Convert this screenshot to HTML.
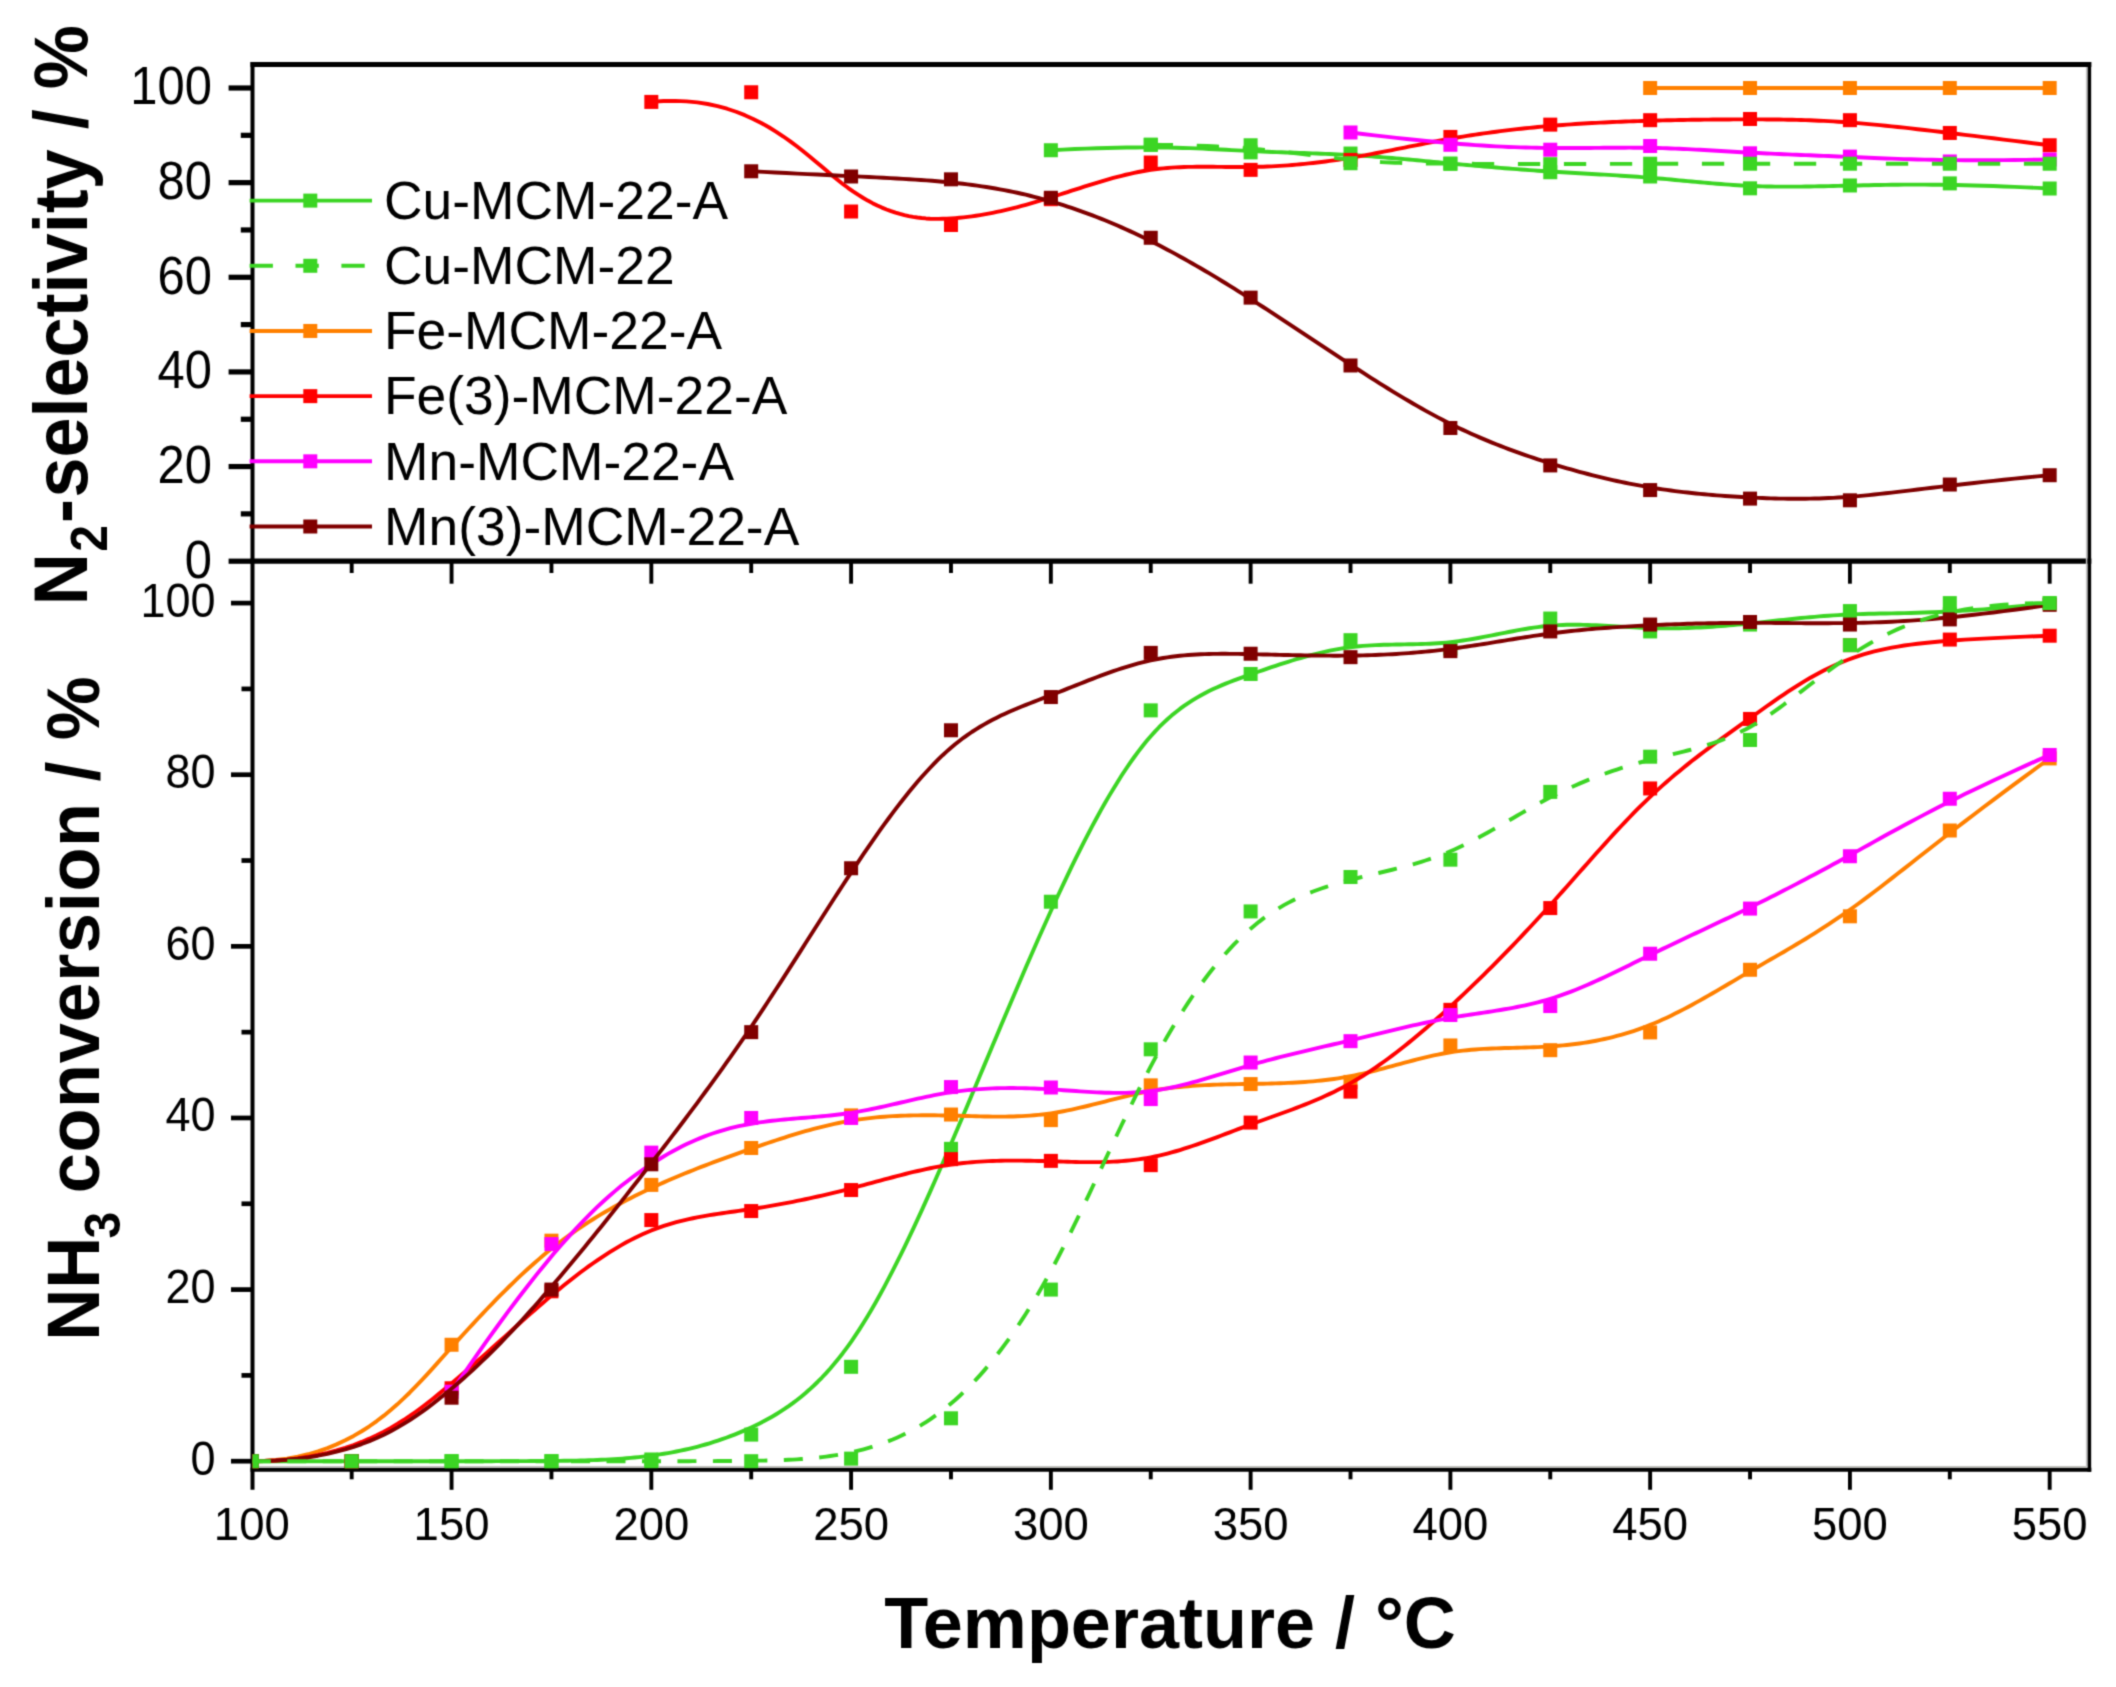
<!DOCTYPE html>
<html lang="en">
<head>
<meta charset="utf-8">
<title>NH3 conversion and N2 selectivity vs temperature</title>
<style>
html,body{margin:0;padding:0;background:#fff;}
body{width:2116px;height:1687px;overflow:hidden;}
svg{display:block;}
</style>
</head>
<body>
<svg width="2116" height="1687" viewBox="0 0 2116 1687" font-family="'Liberation Sans', Arial, Helvetica, sans-serif">
<rect width="2116" height="1687" fill="#ffffff"/>
<defs><clipPath id="cb"><rect x="252.5" y="561.2" width="1836.8000000000002" height="908.5"/></clipPath><clipPath id="ct"><rect x="252.5" y="64.4" width="1836.8000000000002" height="496.80000000000007"/></clipPath><filter id="soft" x="0" y="0" width="2116" height="1687" filterUnits="userSpaceOnUse" color-interpolation-filters="sRGB"><feConvolveMatrix order="3" kernelMatrix="0.0324 0.1152 0.0324 0.1152 0.4096 0.1152 0.0324 0.1152 0.0324" edgeMode="duplicate" preserveAlpha="false"/></filter></defs>
<g filter="url(#soft)">
<rect width="2116" height="1687" fill="#ffffff"/>
<g fill="none" stroke="#000" stroke-linecap="butt">
<line x1="252.5" y1="61.900000000000006" x2="252.5" y2="1489.8" stroke-width="4.0"/>
<line x1="2089.3" y1="61.900000000000006" x2="2089.3" y2="1471.8500000000001" stroke-width="3.7"/>
<line x1="250.5" y1="64.4" x2="2091.3" y2="64.4" stroke-width="5.0"/>
<line x1="250.5" y1="561.2" x2="2091.3" y2="561.2" stroke-width="5.2"/>
<line x1="250.5" y1="1469.7" x2="2091.3" y2="1469.7" stroke-width="4.0"/>
<line x1="254.5" y1="1466.8" x2="2087.3" y2="1466.8" stroke-width="1.6" stroke="#bdbdb8"/>
<line x1="2086.6000000000004" y1="66.9" x2="2086.6000000000004" y2="1467.6000000000001" stroke-width="1.5" stroke="#c4c4c4"/>
</g>
<g stroke="#000" stroke-linecap="butt">
<line x1="228.6" y1="561.20" x2="252.5" y2="561.20" stroke-width="5.2"/>
<line x1="240.8" y1="513.88" x2="252.5" y2="513.88" stroke-width="5.2"/>
<line x1="228.6" y1="466.56" x2="252.5" y2="466.56" stroke-width="5.2"/>
<line x1="240.8" y1="419.24" x2="252.5" y2="419.24" stroke-width="5.2"/>
<line x1="228.6" y1="371.92" x2="252.5" y2="371.92" stroke-width="5.2"/>
<line x1="240.8" y1="324.60" x2="252.5" y2="324.60" stroke-width="5.2"/>
<line x1="228.6" y1="277.28" x2="252.5" y2="277.28" stroke-width="5.2"/>
<line x1="240.8" y1="229.96" x2="252.5" y2="229.96" stroke-width="5.2"/>
<line x1="228.6" y1="182.64" x2="252.5" y2="182.64" stroke-width="5.2"/>
<line x1="240.8" y1="135.32" x2="252.5" y2="135.32" stroke-width="5.2"/>
<line x1="228.6" y1="88.00" x2="252.5" y2="88.00" stroke-width="5.2"/>
<line x1="231.0" y1="1461.20" x2="252.5" y2="1461.20" stroke-width="4.7"/>
<line x1="241.5" y1="1375.39" x2="252.5" y2="1375.39" stroke-width="4.7"/>
<line x1="231.0" y1="1289.58" x2="252.5" y2="1289.58" stroke-width="4.7"/>
<line x1="241.5" y1="1203.77" x2="252.5" y2="1203.77" stroke-width="4.7"/>
<line x1="231.0" y1="1117.96" x2="252.5" y2="1117.96" stroke-width="4.7"/>
<line x1="241.5" y1="1032.15" x2="252.5" y2="1032.15" stroke-width="4.7"/>
<line x1="231.0" y1="946.34" x2="252.5" y2="946.34" stroke-width="4.7"/>
<line x1="241.5" y1="860.53" x2="252.5" y2="860.53" stroke-width="4.7"/>
<line x1="231.0" y1="774.72" x2="252.5" y2="774.72" stroke-width="4.7"/>
<line x1="241.5" y1="688.91" x2="252.5" y2="688.91" stroke-width="4.7"/>
<line x1="231.0" y1="603.10" x2="252.5" y2="603.10" stroke-width="4.7"/>
<line x1="351.68" y1="561.2" x2="351.68" y2="573.00" stroke-width="3.9"/>
<line x1="351.68" y1="1469.7" x2="351.68" y2="1479.30" stroke-width="3.9"/>
<line x1="451.56" y1="561.2" x2="451.56" y2="583.70" stroke-width="3.9"/>
<line x1="451.56" y1="1469.7" x2="451.56" y2="1489.80" stroke-width="3.9"/>
<line x1="551.45" y1="561.2" x2="551.45" y2="573.00" stroke-width="3.9"/>
<line x1="551.45" y1="1469.7" x2="551.45" y2="1479.30" stroke-width="3.9"/>
<line x1="651.33" y1="561.2" x2="651.33" y2="583.70" stroke-width="3.9"/>
<line x1="651.33" y1="1469.7" x2="651.33" y2="1489.80" stroke-width="3.9"/>
<line x1="751.21" y1="561.2" x2="751.21" y2="573.00" stroke-width="3.9"/>
<line x1="751.21" y1="1469.7" x2="751.21" y2="1479.30" stroke-width="3.9"/>
<line x1="851.10" y1="561.2" x2="851.10" y2="583.70" stroke-width="3.9"/>
<line x1="851.10" y1="1469.7" x2="851.10" y2="1489.80" stroke-width="3.9"/>
<line x1="950.98" y1="561.2" x2="950.98" y2="573.00" stroke-width="3.9"/>
<line x1="950.98" y1="1469.7" x2="950.98" y2="1479.30" stroke-width="3.9"/>
<line x1="1050.86" y1="561.2" x2="1050.86" y2="583.70" stroke-width="3.9"/>
<line x1="1050.86" y1="1469.7" x2="1050.86" y2="1489.80" stroke-width="3.9"/>
<line x1="1150.74" y1="561.2" x2="1150.74" y2="573.00" stroke-width="3.9"/>
<line x1="1150.74" y1="1469.7" x2="1150.74" y2="1479.30" stroke-width="3.9"/>
<line x1="1250.62" y1="561.2" x2="1250.62" y2="583.70" stroke-width="3.9"/>
<line x1="1250.62" y1="1469.7" x2="1250.62" y2="1489.80" stroke-width="3.9"/>
<line x1="1350.51" y1="561.2" x2="1350.51" y2="573.00" stroke-width="3.9"/>
<line x1="1350.51" y1="1469.7" x2="1350.51" y2="1479.30" stroke-width="3.9"/>
<line x1="1450.39" y1="561.2" x2="1450.39" y2="583.70" stroke-width="3.9"/>
<line x1="1450.39" y1="1469.7" x2="1450.39" y2="1489.80" stroke-width="3.9"/>
<line x1="1550.27" y1="561.2" x2="1550.27" y2="573.00" stroke-width="3.9"/>
<line x1="1550.27" y1="1469.7" x2="1550.27" y2="1479.30" stroke-width="3.9"/>
<line x1="1650.15" y1="561.2" x2="1650.15" y2="583.70" stroke-width="3.9"/>
<line x1="1650.15" y1="1469.7" x2="1650.15" y2="1489.80" stroke-width="3.9"/>
<line x1="1750.04" y1="561.2" x2="1750.04" y2="573.00" stroke-width="3.9"/>
<line x1="1750.04" y1="1469.7" x2="1750.04" y2="1479.30" stroke-width="3.9"/>
<line x1="1849.92" y1="561.2" x2="1849.92" y2="583.70" stroke-width="3.9"/>
<line x1="1849.92" y1="1469.7" x2="1849.92" y2="1489.80" stroke-width="3.9"/>
<line x1="1949.80" y1="561.2" x2="1949.80" y2="573.00" stroke-width="3.9"/>
<line x1="1949.80" y1="1469.7" x2="1949.80" y2="1479.30" stroke-width="3.9"/>
<line x1="2049.68" y1="561.2" x2="2049.68" y2="583.70" stroke-width="3.9"/>
<line x1="2049.68" y1="1469.7" x2="2049.68" y2="1489.80" stroke-width="3.9"/>
</g>
<g font-size="45.5" fill="#000">
<text transform="translate(211.9,577.50) scale(1.075,1.18)" text-anchor="end">0</text>
<text transform="translate(211.9,482.86) scale(1.075,1.18)" text-anchor="end">20</text>
<text transform="translate(211.9,388.22) scale(1.075,1.18)" text-anchor="end">40</text>
<text transform="translate(211.9,293.58) scale(1.075,1.18)" text-anchor="end">60</text>
<text transform="translate(211.9,198.94) scale(1.075,1.18)" text-anchor="end">80</text>
<text transform="translate(211.9,104.30) scale(1.075,1.18)" text-anchor="end">100</text>
<text transform="translate(215.6,1474.70) scale(0.99,1.05)" text-anchor="end">0</text>
<text transform="translate(215.6,1303.08) scale(0.99,1.05)" text-anchor="end">20</text>
<text transform="translate(215.6,1131.46) scale(0.99,1.05)" text-anchor="end">40</text>
<text transform="translate(215.6,959.84) scale(0.99,1.05)" text-anchor="end">60</text>
<text transform="translate(215.6,788.22) scale(0.99,1.05)" text-anchor="end">80</text>
<text transform="translate(215.6,616.60) scale(0.99,1.05)" text-anchor="end">100</text>
<text transform="translate(251.80,1540.3) scale(1,1.02)" text-anchor="middle">100</text>
<text transform="translate(451.56,1540.3) scale(1,1.02)" text-anchor="middle">150</text>
<text transform="translate(651.33,1540.3) scale(1,1.02)" text-anchor="middle">200</text>
<text transform="translate(851.10,1540.3) scale(1,1.02)" text-anchor="middle">250</text>
<text transform="translate(1050.86,1540.3) scale(1,1.02)" text-anchor="middle">300</text>
<text transform="translate(1250.62,1540.3) scale(1,1.02)" text-anchor="middle">350</text>
<text transform="translate(1450.39,1540.3) scale(1,1.02)" text-anchor="middle">400</text>
<text transform="translate(1650.15,1540.3) scale(1,1.02)" text-anchor="middle">450</text>
<text transform="translate(1849.92,1540.3) scale(1,1.02)" text-anchor="middle">500</text>
<text transform="translate(2049.68,1540.3) scale(1,1.02)" text-anchor="middle">550</text>
</g>
<g font-size="72" font-weight="bold" fill="#000">
<text transform="translate(86.6,605.2) rotate(-90) scale(1,1.066)">N<tspan font-size="48" dy="19.4" dx="1.5">2</tspan><tspan dy="-19.4" dx="2">-</tspan><tspan dx="1.5">selectivity / %</tspan></text>
<text transform="translate(99.2,1340.7) rotate(-90) scale(1,1.036)">NH<tspan font-size="48" dy="20" dx="-1.9">3</tspan><tspan dy="-20" dx="-2.1" letter-spacing="0.7"> conversion / %</tspan></text>
<text x="1170" y="1648" text-anchor="middle">Temperature / °C</text>
</g>
<g clip-path="url(#cb)">
<path d="M251.80,1461.20 L264.03,1461.20 L275.75,1461.20 L287.00,1461.20 L297.77,1461.20 L308.10,1461.20 L318.00,1461.20 L327.48,1461.20 L336.58,1461.20 L345.29,1461.20 L353.65,1461.20 L361.67,1461.20 L369.37,1461.20 L376.76,1461.20 L383.87,1461.20 L390.72,1461.20 L397.31,1461.20 L403.67,1461.20 L409.82,1461.20 L415.77,1461.20 L421.55,1461.20 L427.16,1461.20 L432.64,1461.20 L437.99,1461.20 L443.24,1461.20 L448.40,1461.20 L453.48,1461.20 L458.47,1461.20 L463.40,1461.20 L468.24,1461.20 L473.02,1461.20 L477.74,1461.19 L482.39,1461.19 L486.99,1461.18 L491.53,1461.18 L496.02,1461.17 L500.47,1461.16 L504.87,1461.15 L509.23,1461.14 L513.55,1461.13 L517.85,1461.12 L522.11,1461.10 L526.35,1461.08 L530.56,1461.06 L534.76,1461.03 L538.95,1461.01 L543.12,1460.98 L547.29,1460.95 L551.45,1460.91 L555.61,1460.88 L559.77,1460.83 L563.93,1460.79 L568.09,1460.73 L572.26,1460.67 L576.42,1460.59 L580.58,1460.50 L584.74,1460.40 L588.90,1460.28 L593.07,1460.15 L597.23,1460.00 L601.39,1459.82 L605.55,1459.63 L609.71,1459.41 L613.87,1459.17 L618.04,1458.90 L622.20,1458.60 L626.36,1458.28 L630.52,1457.92 L634.68,1457.53 L638.84,1457.11 L643.01,1456.65 L647.17,1456.16 L651.33,1455.62 L655.49,1455.05 L659.65,1454.43 L663.82,1453.77 L667.98,1453.07 L672.14,1452.32 L676.30,1451.52 L680.46,1450.68 L684.62,1449.78 L688.79,1448.83 L692.95,1447.83 L697.11,1446.78 L701.27,1445.66 L705.43,1444.50 L709.59,1443.27 L713.76,1441.98 L717.92,1440.63 L722.08,1439.22 L726.24,1437.74 L730.40,1436.20 L734.57,1434.59 L738.73,1432.91 L742.89,1431.16 L747.05,1429.34 L751.21,1427.45 L755.37,1425.48 L759.54,1423.43 L763.70,1421.29 L767.86,1419.05 L772.02,1416.70 L776.18,1414.24 L780.34,1411.66 L784.51,1408.96 L788.67,1406.11 L792.83,1403.12 L796.99,1399.98 L801.15,1396.68 L805.32,1393.21 L809.48,1389.57 L813.64,1385.74 L817.80,1381.73 L821.96,1377.51 L826.12,1373.09 L830.29,1368.45 L834.45,1363.59 L838.61,1358.50 L842.77,1353.18 L846.93,1347.61 L851.10,1341.78 L855.26,1335.70 L859.42,1329.37 L863.58,1322.79 L867.74,1315.98 L871.90,1308.94 L876.07,1301.69 L880.23,1294.22 L884.39,1286.56 L888.55,1278.71 L892.71,1270.67 L896.87,1262.47 L901.04,1254.09 L905.20,1245.57 L909.36,1236.89 L913.52,1228.08 L917.68,1219.14 L921.85,1210.07 L926.01,1200.90 L930.17,1191.62 L934.33,1182.25 L938.49,1172.79 L942.65,1163.25 L946.82,1153.65 L950.98,1143.99 L955.14,1134.28 L959.30,1124.52 L963.46,1114.72 L967.62,1104.89 L971.79,1095.04 L975.95,1085.16 L980.11,1075.27 L984.27,1065.38 L988.43,1055.48 L992.60,1045.59 L996.76,1035.70 L1000.92,1025.84 L1005.08,1016.00 L1009.24,1006.18 L1013.40,996.41 L1017.57,986.67 L1021.73,976.98 L1025.89,967.35 L1030.05,957.77 L1034.21,948.26 L1038.37,938.83 L1042.54,929.47 L1046.70,920.20 L1050.86,911.01 L1055.02,901.93 L1059.18,892.95 L1063.35,884.08 L1067.51,875.33 L1071.67,866.70 L1075.83,858.21 L1079.99,849.85 L1084.15,841.64 L1088.32,833.59 L1092.48,825.70 L1096.64,817.98 L1100.80,810.43 L1104.96,803.07 L1109.12,795.89 L1113.29,788.92 L1117.45,782.15 L1121.61,775.58 L1125.77,769.24 L1129.93,763.13 L1134.10,757.25 L1138.26,751.60 L1142.42,746.21 L1146.58,741.07 L1150.74,736.19 L1154.90,731.58 L1159.07,727.23 L1163.23,723.12 L1167.39,719.25 L1171.55,715.60 L1175.71,712.17 L1179.87,708.94 L1184.04,705.90 L1188.20,703.05 L1192.36,700.36 L1196.52,697.83 L1200.68,695.45 L1204.85,693.21 L1209.01,691.09 L1213.17,689.09 L1217.33,687.19 L1221.49,685.38 L1225.65,683.66 L1229.82,682.01 L1233.98,680.41 L1238.14,678.86 L1242.30,677.36 L1246.46,675.87 L1250.62,674.41 L1254.79,672.95 L1258.95,671.50 L1263.11,670.05 L1267.27,668.63 L1271.43,667.21 L1275.60,665.82 L1279.76,664.45 L1283.92,663.10 L1288.08,661.78 L1292.24,660.49 L1296.40,659.23 L1300.57,658.01 L1304.73,656.83 L1308.89,655.68 L1313.05,654.59 L1317.21,653.54 L1321.38,652.54 L1325.54,651.60 L1329.70,650.71 L1333.86,649.88 L1338.02,649.11 L1342.18,648.41 L1346.35,647.77 L1350.51,647.21 L1354.67,646.71 L1358.83,646.29 L1362.99,645.92 L1367.15,645.61 L1371.32,645.36 L1375.48,645.14 L1379.64,644.96 L1383.80,644.82 L1387.96,644.70 L1392.13,644.61 L1396.29,644.53 L1400.45,644.45 L1404.61,644.38 L1408.77,644.31 L1412.93,644.23 L1417.10,644.14 L1421.26,644.02 L1425.42,643.88 L1429.58,643.71 L1433.74,643.50 L1437.90,643.25 L1442.07,642.95 L1446.23,642.59 L1450.39,642.17 L1454.55,641.69 L1458.71,641.15 L1462.88,640.55 L1467.04,639.90 L1471.20,639.21 L1475.36,638.48 L1479.52,637.72 L1483.68,636.93 L1487.85,636.13 L1492.01,635.31 L1496.17,634.48 L1500.33,633.66 L1504.49,632.83 L1508.65,632.02 L1512.82,631.22 L1516.98,630.44 L1521.14,629.69 L1525.30,628.97 L1529.46,628.29 L1533.63,627.66 L1537.79,627.08 L1541.95,626.55 L1546.11,626.09 L1550.27,625.70 L1554.43,625.38 L1558.60,625.12 L1562.76,624.94 L1566.92,624.81 L1571.08,624.75 L1575.24,624.73 L1579.40,624.76 L1583.57,624.83 L1587.73,624.94 L1591.89,625.09 L1596.05,625.26 L1600.21,625.46 L1604.38,625.68 L1608.54,625.92 L1612.70,626.16 L1616.86,626.42 L1621.02,626.67 L1625.18,626.92 L1629.35,627.17 L1633.51,627.40 L1637.67,627.62 L1641.83,627.82 L1645.99,627.99 L1650.15,628.13 L1654.32,628.24 L1658.48,628.31 L1662.64,628.35 L1666.80,628.36 L1670.96,628.35 L1675.13,628.30 L1679.29,628.22 L1683.45,628.11 L1687.61,627.98 L1691.77,627.82 L1695.93,627.64 L1700.10,627.44 L1704.26,627.21 L1708.42,626.96 L1712.58,626.68 L1716.74,626.39 L1720.91,626.08 L1725.07,625.75 L1729.23,625.41 L1733.39,625.04 L1737.55,624.67 L1741.71,624.27 L1745.88,623.87 L1750.04,623.45 L1754.20,623.02 L1758.37,622.58 L1762.54,622.14 L1766.72,621.68 L1770.92,621.23 L1775.14,620.77 L1779.38,620.31 L1783.64,619.85 L1787.93,619.39 L1792.26,618.94 L1796.62,618.50 L1801.02,618.06 L1805.46,617.63 L1809.95,617.22 L1814.50,616.82 L1819.09,616.43 L1823.75,616.06 L1828.46,615.71 L1833.24,615.38 L1838.09,615.08 L1843.01,614.80 L1848.01,614.54 L1853.08,614.32 L1858.24,614.12 L1863.49,613.95 L1868.85,613.81 L1874.32,613.69 L1879.94,613.57 L1885.71,613.47 L1891.67,613.35 L1897.82,613.23 L1904.18,613.10 L1910.77,612.94 L1917.61,612.75 L1924.72,612.52 L1932.11,612.25 L1939.81,611.93 L1947.83,611.55 L1956.19,611.11 L1964.91,610.59 L1974.00,610.00 L1983.49,609.32 L1993.38,608.56 L2003.71,607.69 L2014.49,606.72 L2025.73,605.63 L2037.46,604.43 L2049.68,603.10" fill="none" stroke="#3cd524" stroke-width="3.9" stroke-linejoin="round"/>
<g fill="#3cd524">
<rect x="244.80" y="1454.20" width="14.0" height="14.0"/>
<rect x="344.68" y="1454.20" width="14.0" height="14.0"/>
<rect x="444.56" y="1454.20" width="14.0" height="14.0"/>
<rect x="544.45" y="1454.20" width="14.0" height="14.0"/>
<rect x="644.33" y="1452.48" width="14.0" height="14.0"/>
<rect x="744.21" y="1427.60" width="14.0" height="14.0"/>
<rect x="844.10" y="1359.81" width="14.0" height="14.0"/>
<rect x="943.98" y="1141.85" width="14.0" height="14.0"/>
<rect x="1043.86" y="894.72" width="14.0" height="14.0"/>
<rect x="1143.74" y="703.36" width="14.0" height="14.0"/>
<rect x="1243.62" y="666.98" width="14.0" height="14.0"/>
<rect x="1343.51" y="633.17" width="14.0" height="14.0"/>
<rect x="1443.39" y="641.58" width="14.0" height="14.0"/>
<rect x="1543.27" y="611.55" width="14.0" height="14.0"/>
<rect x="1643.15" y="624.42" width="14.0" height="14.0"/>
<rect x="1743.04" y="617.55" width="14.0" height="14.0"/>
<rect x="1842.92" y="604.08" width="14.0" height="14.0"/>
<rect x="1942.80" y="607.26" width="14.0" height="14.0"/>
<rect x="2042.68" y="596.10" width="14.0" height="14.0"/>
</g>
<path d="M251.80,1461.20 L264.03,1460.90 L275.75,1460.03 L287.00,1458.61 L297.77,1456.67 L308.10,1454.25 L318.00,1451.38 L327.48,1448.08 L336.58,1444.38 L345.29,1440.33 L353.65,1435.94 L361.67,1431.25 L369.37,1426.28 L376.76,1421.07 L383.87,1415.66 L390.72,1410.06 L397.31,1404.31 L403.67,1398.44 L409.82,1392.48 L415.77,1386.45 L421.55,1380.40 L427.16,1374.36 L432.64,1368.34 L437.99,1362.38 L443.24,1356.52 L448.40,1350.77 L453.48,1345.15 L458.47,1339.64 L463.40,1334.25 L468.24,1328.98 L473.02,1323.82 L477.74,1318.78 L482.39,1313.84 L486.99,1309.02 L491.53,1304.30 L496.02,1299.69 L500.47,1295.19 L504.87,1290.79 L509.23,1286.49 L513.55,1282.29 L517.85,1278.19 L522.11,1274.18 L526.35,1270.27 L530.56,1266.45 L534.76,1262.73 L538.95,1259.10 L543.12,1255.55 L547.29,1252.09 L551.45,1248.72 L555.61,1245.43 L559.77,1242.22 L563.93,1239.10 L568.09,1236.05 L572.26,1233.07 L576.42,1230.17 L580.58,1227.34 L584.74,1224.58 L588.90,1221.88 L593.07,1219.25 L597.23,1216.69 L601.39,1214.18 L605.55,1211.73 L609.71,1209.34 L613.87,1207.00 L618.04,1204.71 L622.20,1202.48 L626.36,1200.29 L630.52,1198.15 L634.68,1196.05 L638.84,1193.99 L643.01,1191.97 L647.17,1189.99 L651.33,1188.04 L655.49,1186.12 L659.65,1184.24 L663.82,1182.39 L667.98,1180.57 L672.14,1178.77 L676.30,1177.01 L680.46,1175.27 L684.62,1173.55 L688.79,1171.86 L692.95,1170.19 L697.11,1168.55 L701.27,1166.93 L705.43,1165.32 L709.59,1163.74 L713.76,1162.17 L717.92,1160.62 L722.08,1159.09 L726.24,1157.57 L730.40,1156.06 L734.57,1154.57 L738.73,1153.09 L742.89,1151.62 L747.05,1150.16 L751.21,1148.71 L755.37,1147.26 L759.54,1145.83 L763.70,1144.41 L767.86,1143.00 L772.02,1141.60 L776.18,1140.23 L780.34,1138.87 L784.51,1137.53 L788.67,1136.22 L792.83,1134.93 L796.99,1133.67 L801.15,1132.44 L805.32,1131.24 L809.48,1130.07 L813.64,1128.94 L817.80,1127.85 L821.96,1126.79 L826.12,1125.78 L830.29,1124.81 L834.45,1123.89 L838.61,1123.01 L842.77,1122.18 L846.93,1121.40 L851.10,1120.68 L855.26,1120.01 L859.42,1119.39 L863.58,1118.83 L867.74,1118.31 L871.90,1117.84 L876.07,1117.42 L880.23,1117.04 L884.39,1116.71 L888.55,1116.41 L892.71,1116.16 L896.87,1115.94 L901.04,1115.75 L905.20,1115.60 L909.36,1115.48 L913.52,1115.39 L917.68,1115.33 L921.85,1115.29 L926.01,1115.28 L930.17,1115.29 L934.33,1115.32 L938.49,1115.36 L942.65,1115.43 L946.82,1115.51 L950.98,1115.60 L955.14,1115.70 L959.30,1115.81 L963.46,1115.93 L967.62,1116.05 L971.79,1116.16 L975.95,1116.27 L980.11,1116.37 L984.27,1116.46 L988.43,1116.53 L992.60,1116.58 L996.76,1116.61 L1000.92,1116.61 L1005.08,1116.58 L1009.24,1116.52 L1013.40,1116.43 L1017.57,1116.29 L1021.73,1116.12 L1025.89,1115.89 L1030.05,1115.62 L1034.21,1115.29 L1038.37,1114.91 L1042.54,1114.46 L1046.70,1113.96 L1050.86,1113.38 L1055.02,1112.74 L1059.18,1112.03 L1063.35,1111.27 L1067.51,1110.45 L1071.67,1109.58 L1075.83,1108.67 L1079.99,1107.72 L1084.15,1106.74 L1088.32,1105.73 L1092.48,1104.69 L1096.64,1103.65 L1100.80,1102.59 L1104.96,1101.52 L1109.12,1100.45 L1113.29,1099.39 L1117.45,1098.34 L1121.61,1097.30 L1125.77,1096.29 L1129.93,1095.30 L1134.10,1094.34 L1138.26,1093.42 L1142.42,1092.54 L1146.58,1091.71 L1150.74,1090.93 L1154.90,1090.21 L1159.07,1089.54 L1163.23,1088.93 L1167.39,1088.36 L1171.55,1087.85 L1175.71,1087.38 L1179.87,1086.96 L1184.04,1086.57 L1188.20,1086.22 L1192.36,1085.91 L1196.52,1085.63 L1200.68,1085.39 L1204.85,1085.17 L1209.01,1084.98 L1213.17,1084.81 L1217.33,1084.66 L1221.49,1084.53 L1225.65,1084.41 L1229.82,1084.31 L1233.98,1084.22 L1238.14,1084.14 L1242.30,1084.07 L1246.46,1083.99 L1250.62,1083.92 L1254.79,1083.85 L1258.95,1083.77 L1263.11,1083.69 L1267.27,1083.60 L1271.43,1083.50 L1275.60,1083.38 L1279.76,1083.25 L1283.92,1083.10 L1288.08,1082.92 L1292.24,1082.73 L1296.40,1082.51 L1300.57,1082.26 L1304.73,1081.98 L1308.89,1081.67 L1313.05,1081.32 L1317.21,1080.93 L1321.38,1080.51 L1325.54,1080.04 L1329.70,1079.53 L1333.86,1078.97 L1338.02,1078.36 L1342.18,1077.69 L1346.35,1076.97 L1350.51,1076.20 L1354.67,1075.37 L1358.83,1074.48 L1362.99,1073.54 L1367.15,1072.56 L1371.32,1071.55 L1375.48,1070.50 L1379.64,1069.42 L1383.80,1068.32 L1387.96,1067.21 L1392.13,1066.09 L1396.29,1064.96 L1400.45,1063.83 L1404.61,1062.71 L1408.77,1061.59 L1412.93,1060.50 L1417.10,1059.43 L1421.26,1058.39 L1425.42,1057.37 L1429.58,1056.40 L1433.74,1055.47 L1437.90,1054.60 L1442.07,1053.77 L1446.23,1053.01 L1450.39,1052.32 L1454.55,1051.69 L1458.71,1051.13 L1462.88,1050.63 L1467.04,1050.19 L1471.20,1049.81 L1475.36,1049.47 L1479.52,1049.17 L1483.68,1048.92 L1487.85,1048.70 L1492.01,1048.51 L1496.17,1048.34 L1500.33,1048.20 L1504.49,1048.07 L1508.65,1047.96 L1512.82,1047.85 L1516.98,1047.74 L1521.14,1047.63 L1525.30,1047.52 L1529.46,1047.39 L1533.63,1047.25 L1537.79,1047.08 L1541.95,1046.89 L1546.11,1046.68 L1550.27,1046.42 L1554.43,1046.13 L1558.60,1045.80 L1562.76,1045.42 L1566.92,1045.01 L1571.08,1044.54 L1575.24,1044.03 L1579.40,1043.47 L1583.57,1042.86 L1587.73,1042.20 L1591.89,1041.48 L1596.05,1040.71 L1600.21,1039.89 L1604.38,1039.00 L1608.54,1038.05 L1612.70,1037.04 L1616.86,1035.97 L1621.02,1034.84 L1625.18,1033.63 L1629.35,1032.36 L1633.51,1031.02 L1637.67,1029.61 L1641.83,1028.12 L1645.99,1026.56 L1650.15,1024.93 L1654.32,1023.21 L1658.48,1021.43 L1662.64,1019.57 L1666.80,1017.65 L1670.96,1015.66 L1675.13,1013.62 L1679.29,1011.52 L1683.45,1009.37 L1687.61,1007.17 L1691.77,1004.93 L1695.93,1002.66 L1700.10,1000.34 L1704.26,998.00 L1708.42,995.63 L1712.58,993.24 L1716.74,990.82 L1720.91,988.39 L1725.07,985.96 L1729.23,983.51 L1733.39,981.06 L1737.55,978.61 L1741.71,976.16 L1745.88,973.72 L1750.04,971.30 L1754.20,968.88 L1758.37,966.48 L1762.54,964.08 L1766.72,961.68 L1770.92,959.27 L1775.14,956.85 L1779.38,954.41 L1783.64,951.94 L1787.93,949.43 L1792.26,946.89 L1796.62,944.30 L1801.02,941.66 L1805.46,938.96 L1809.95,936.20 L1814.50,933.37 L1819.09,930.47 L1823.75,927.48 L1828.46,924.40 L1833.24,921.23 L1838.09,917.97 L1843.01,914.59 L1848.01,911.10 L1853.08,907.49 L1858.24,903.76 L1863.49,899.90 L1868.85,895.90 L1874.32,891.76 L1879.94,887.46 L1885.71,883.00 L1891.67,878.38 L1897.82,873.58 L1904.18,868.60 L1910.77,863.44 L1917.61,858.08 L1924.72,852.51 L1932.11,846.73 L1939.81,840.74 L1947.83,834.52 L1956.19,828.08 L1964.91,821.39 L1974.00,814.45 L1983.49,807.27 L1993.38,799.82 L2003.71,792.10 L2014.49,784.11 L2025.73,775.84 L2037.46,767.28 L2049.68,758.42" fill="none" stroke="#ff8000" stroke-width="3.9" stroke-linejoin="round"/>
<g fill="#ff8000">
<rect x="244.80" y="1454.20" width="14.0" height="14.0"/>
<rect x="344.68" y="1454.20" width="14.0" height="14.0"/>
<rect x="444.56" y="1337.76" width="14.0" height="14.0"/>
<rect x="544.45" y="1233.67" width="14.0" height="14.0"/>
<rect x="644.33" y="1177.89" width="14.0" height="14.0"/>
<rect x="744.21" y="1140.99" width="14.0" height="14.0"/>
<rect x="844.10" y="1108.39" width="14.0" height="14.0"/>
<rect x="943.98" y="1107.53" width="14.0" height="14.0"/>
<rect x="1043.86" y="1113.11" width="14.0" height="14.0"/>
<rect x="1143.74" y="1078.35" width="14.0" height="14.0"/>
<rect x="1243.62" y="1077.07" width="14.0" height="14.0"/>
<rect x="1343.51" y="1074.92" width="14.0" height="14.0"/>
<rect x="1443.39" y="1038.45" width="14.0" height="14.0"/>
<rect x="1543.27" y="1043.17" width="14.0" height="14.0"/>
<rect x="1643.15" y="1025.41" width="14.0" height="14.0"/>
<rect x="1743.04" y="962.77" width="14.0" height="14.0"/>
<rect x="1842.92" y="909.31" width="14.0" height="14.0"/>
<rect x="1942.80" y="823.50" width="14.0" height="14.0"/>
<rect x="2042.68" y="751.42" width="14.0" height="14.0"/>
</g>
<path d="M251.80,1461.20 L264.03,1461.01 L275.75,1460.46 L287.00,1459.57 L297.77,1458.34 L308.10,1456.80 L318.00,1454.96 L327.48,1452.85 L336.58,1450.47 L345.29,1447.85 L353.65,1444.99 L361.67,1441.93 L369.37,1438.67 L376.76,1435.22 L383.87,1431.62 L390.72,1427.87 L397.31,1423.99 L403.67,1420.00 L409.82,1415.92 L415.77,1411.75 L421.55,1407.53 L427.16,1403.26 L432.64,1398.96 L437.99,1394.64 L443.24,1390.34 L448.40,1386.05 L453.48,1381.78 L458.47,1377.54 L463.40,1373.32 L468.24,1369.13 L473.02,1364.96 L477.74,1360.82 L482.39,1356.71 L486.99,1352.63 L491.53,1348.58 L496.02,1344.56 L500.47,1340.57 L504.87,1336.62 L509.23,1332.70 L513.55,1328.82 L517.85,1324.97 L522.11,1321.15 L526.35,1317.38 L530.56,1313.64 L534.76,1309.95 L538.95,1306.30 L543.12,1302.68 L547.29,1299.11 L551.45,1295.59 L555.61,1292.11 L559.77,1288.67 L563.93,1285.29 L568.09,1281.96 L572.26,1278.68 L576.42,1275.46 L580.58,1272.31 L584.74,1269.21 L588.90,1266.18 L593.07,1263.22 L597.23,1260.33 L601.39,1257.52 L605.55,1254.78 L609.71,1252.12 L613.87,1249.54 L618.04,1247.05 L622.20,1244.64 L626.36,1242.32 L630.52,1240.10 L634.68,1237.96 L638.84,1235.93 L643.01,1234.00 L647.17,1232.17 L651.33,1230.44 L655.49,1228.82 L659.65,1227.31 L663.82,1225.89 L667.98,1224.56 L672.14,1223.32 L676.30,1222.16 L680.46,1221.08 L684.62,1220.07 L688.79,1219.12 L692.95,1218.23 L697.11,1217.40 L701.27,1216.61 L705.43,1215.87 L709.59,1215.17 L713.76,1214.50 L717.92,1213.86 L722.08,1213.24 L726.24,1212.63 L730.40,1212.04 L734.57,1211.45 L738.73,1210.87 L742.89,1210.28 L747.05,1209.68 L751.21,1209.06 L755.37,1208.43 L759.54,1207.77 L763.70,1207.09 L767.86,1206.39 L772.02,1205.68 L776.18,1204.94 L780.34,1204.18 L784.51,1203.40 L788.67,1202.60 L792.83,1201.79 L796.99,1200.95 L801.15,1200.10 L805.32,1199.22 L809.48,1198.33 L813.64,1197.42 L817.80,1196.49 L821.96,1195.54 L826.12,1194.57 L830.29,1193.59 L834.45,1192.58 L838.61,1191.56 L842.77,1190.52 L846.93,1189.47 L851.10,1188.40 L855.26,1187.31 L859.42,1186.20 L863.58,1185.09 L867.74,1183.97 L871.90,1182.84 L876.07,1181.71 L880.23,1180.58 L884.39,1179.46 L888.55,1178.34 L892.71,1177.24 L896.87,1176.14 L901.04,1175.07 L905.20,1174.01 L909.36,1172.98 L913.52,1171.97 L917.68,1171.00 L921.85,1170.05 L926.01,1169.14 L930.17,1168.27 L934.33,1167.43 L938.49,1166.65 L942.65,1165.91 L946.82,1165.22 L950.98,1164.58 L955.14,1164.00 L959.30,1163.48 L963.46,1163.00 L967.62,1162.58 L971.79,1162.21 L975.95,1161.88 L980.11,1161.59 L984.27,1161.35 L988.43,1161.14 L992.60,1160.97 L996.76,1160.84 L1000.92,1160.74 L1005.08,1160.67 L1009.24,1160.63 L1013.40,1160.61 L1017.57,1160.62 L1021.73,1160.65 L1025.89,1160.70 L1030.05,1160.77 L1034.21,1160.85 L1038.37,1160.95 L1042.54,1161.06 L1046.70,1161.17 L1050.86,1161.29 L1055.02,1161.42 L1059.18,1161.55 L1063.35,1161.67 L1067.51,1161.79 L1071.67,1161.90 L1075.83,1162.00 L1079.99,1162.08 L1084.15,1162.13 L1088.32,1162.17 L1092.48,1162.17 L1096.64,1162.15 L1100.80,1162.09 L1104.96,1161.99 L1109.12,1161.85 L1113.29,1161.66 L1117.45,1161.43 L1121.61,1161.14 L1125.77,1160.80 L1129.93,1160.39 L1134.10,1159.92 L1138.26,1159.39 L1142.42,1158.78 L1146.58,1158.10 L1150.74,1157.35 L1154.90,1156.51 L1159.07,1155.60 L1163.23,1154.61 L1167.39,1153.55 L1171.55,1152.43 L1175.71,1151.25 L1179.87,1150.01 L1184.04,1148.73 L1188.20,1147.39 L1192.36,1146.01 L1196.52,1144.59 L1200.68,1143.14 L1204.85,1141.66 L1209.01,1140.15 L1213.17,1138.61 L1217.33,1137.06 L1221.49,1135.50 L1225.65,1133.93 L1229.82,1132.35 L1233.98,1130.77 L1238.14,1129.19 L1242.30,1127.62 L1246.46,1126.07 L1250.62,1124.52 L1254.79,1123.00 L1258.95,1121.49 L1263.11,1120.00 L1267.27,1118.51 L1271.43,1117.02 L1275.60,1115.53 L1279.76,1114.03 L1283.92,1112.53 L1288.08,1111.00 L1292.24,1109.46 L1296.40,1107.89 L1300.57,1106.29 L1304.73,1104.65 L1308.89,1102.98 L1313.05,1101.27 L1317.21,1099.51 L1321.38,1097.69 L1325.54,1095.82 L1329.70,1093.89 L1333.86,1091.89 L1338.02,1089.82 L1342.18,1087.68 L1346.35,1085.46 L1350.51,1083.15 L1354.67,1080.76 L1358.83,1078.28 L1362.99,1075.72 L1367.15,1073.07 L1371.32,1070.35 L1375.48,1067.55 L1379.64,1064.67 L1383.80,1061.73 L1387.96,1058.71 L1392.13,1055.62 L1396.29,1052.47 L1400.45,1049.25 L1404.61,1045.98 L1408.77,1042.64 L1412.93,1039.25 L1417.10,1035.80 L1421.26,1032.30 L1425.42,1028.75 L1429.58,1025.15 L1433.74,1021.50 L1437.90,1017.81 L1442.07,1014.08 L1446.23,1010.31 L1450.39,1006.51 L1454.55,1002.67 L1458.71,998.79 L1462.88,994.88 L1467.04,990.94 L1471.20,986.96 L1475.36,982.94 L1479.52,978.90 L1483.68,974.82 L1487.85,970.70 L1492.01,966.56 L1496.17,962.38 L1500.33,958.17 L1504.49,953.92 L1508.65,949.64 L1512.82,945.33 L1516.98,940.99 L1521.14,936.61 L1525.30,932.20 L1529.46,927.76 L1533.63,923.29 L1537.79,918.79 L1541.95,914.26 L1546.11,909.69 L1550.27,905.09 L1554.43,900.47 L1558.60,895.81 L1562.76,891.14 L1566.92,886.45 L1571.08,881.75 L1575.24,877.04 L1579.40,872.33 L1583.57,867.62 L1587.73,862.93 L1591.89,858.24 L1596.05,853.57 L1600.21,848.93 L1604.38,844.32 L1608.54,839.73 L1612.70,835.19 L1616.86,830.69 L1621.02,826.23 L1625.18,821.83 L1629.35,817.49 L1633.51,813.21 L1637.67,808.99 L1641.83,804.85 L1645.99,800.78 L1650.15,796.80 L1654.32,792.90 L1658.48,789.09 L1662.64,785.36 L1666.80,781.70 L1670.96,778.11 L1675.13,774.59 L1679.29,771.13 L1683.45,767.73 L1687.61,764.39 L1691.77,761.09 L1695.93,757.85 L1700.10,754.65 L1704.26,751.49 L1708.42,748.37 L1712.58,745.27 L1716.74,742.21 L1720.91,739.17 L1725.07,736.15 L1729.23,733.14 L1733.39,730.15 L1737.55,727.17 L1741.71,724.19 L1745.88,721.21 L1750.04,718.23 L1754.20,715.24 L1758.37,712.25 L1762.54,709.26 L1766.72,706.28 L1770.92,703.31 L1775.14,700.36 L1779.38,697.44 L1783.64,694.54 L1787.93,691.67 L1792.26,688.84 L1796.62,686.06 L1801.02,683.32 L1805.46,680.63 L1809.95,678.01 L1814.50,675.45 L1819.09,672.95 L1823.75,670.53 L1828.46,668.19 L1833.24,665.93 L1838.09,663.75 L1843.01,661.68 L1848.01,659.70 L1853.08,657.82 L1858.24,656.05 L1863.49,654.40 L1868.85,652.85 L1874.32,651.40 L1879.94,650.06 L1885.71,648.80 L1891.67,647.64 L1897.82,646.56 L1904.18,645.55 L1910.77,644.62 L1917.61,643.75 L1924.72,642.94 L1932.11,642.19 L1939.81,641.49 L1947.83,640.84 L1956.19,640.23 L1964.91,639.66 L1974.00,639.11 L1983.49,638.59 L1993.38,638.09 L2003.71,637.60 L2014.49,637.13 L2025.73,636.66 L2037.46,636.19 L2049.68,635.71" fill="none" stroke="#ff0000" stroke-width="3.9" stroke-linejoin="round"/>
<g fill="#ff0000">
<rect x="244.80" y="1454.20" width="14.0" height="14.0"/>
<rect x="344.68" y="1454.20" width="14.0" height="14.0"/>
<rect x="444.56" y="1381.26" width="14.0" height="14.0"/>
<rect x="544.45" y="1284.30" width="14.0" height="14.0"/>
<rect x="644.33" y="1213.07" width="14.0" height="14.0"/>
<rect x="744.21" y="1204.06" width="14.0" height="14.0"/>
<rect x="844.10" y="1183.04" width="14.0" height="14.0"/>
<rect x="943.98" y="1152.15" width="14.0" height="14.0"/>
<rect x="1043.86" y="1153.87" width="14.0" height="14.0"/>
<rect x="1143.74" y="1158.16" width="14.0" height="14.0"/>
<rect x="1243.62" y="1115.59" width="14.0" height="14.0"/>
<rect x="1343.51" y="1084.62" width="14.0" height="14.0"/>
<rect x="1443.39" y="1002.84" width="14.0" height="14.0"/>
<rect x="1543.27" y="901.07" width="14.0" height="14.0"/>
<rect x="1643.15" y="781.45" width="14.0" height="14.0"/>
<rect x="1743.04" y="711.94" width="14.0" height="14.0"/>
<rect x="1842.92" y="638.15" width="14.0" height="14.0"/>
<rect x="1942.80" y="632.57" width="14.0" height="14.0"/>
<rect x="2042.68" y="628.71" width="14.0" height="14.0"/>
</g>
<path d="M451.56,1391.69 L463.79,1373.77 L475.52,1356.87 L486.76,1340.96 L497.54,1325.99 L507.87,1311.94 L517.76,1298.77 L527.25,1286.44 L536.34,1274.91 L545.06,1264.15 L553.42,1254.12 L561.44,1244.78 L569.14,1236.10 L576.53,1228.04 L583.64,1220.56 L590.48,1213.62 L597.07,1207.20 L603.43,1201.25 L609.58,1195.73 L615.54,1190.61 L621.31,1185.86 L626.93,1181.43 L632.40,1177.28 L637.76,1173.39 L643.01,1169.72 L648.17,1166.23 L653.24,1162.91 L658.24,1159.75 L663.16,1156.77 L668.01,1153.94 L672.79,1151.26 L677.50,1148.73 L682.16,1146.35 L686.75,1144.10 L691.30,1141.99 L695.79,1140.01 L700.23,1138.15 L704.63,1136.41 L708.99,1134.79 L713.32,1133.27 L717.61,1131.86 L721.87,1130.55 L726.11,1129.33 L730.33,1128.20 L734.53,1127.16 L738.71,1126.20 L742.88,1125.31 L747.05,1124.49 L751.21,1123.74 L755.37,1123.04 L759.54,1122.41 L763.70,1121.82 L767.86,1121.28 L772.02,1120.78 L776.18,1120.32 L780.34,1119.89 L784.51,1119.48 L788.67,1119.10 L792.83,1118.73 L796.99,1118.38 L801.15,1118.04 L805.32,1117.70 L809.48,1117.36 L813.64,1117.01 L817.80,1116.65 L821.96,1116.27 L826.12,1115.88 L830.29,1115.46 L834.45,1115.01 L838.61,1114.52 L842.77,1114.00 L846.93,1113.43 L851.10,1112.81 L855.26,1112.14 L859.42,1111.42 L863.58,1110.66 L867.74,1109.86 L871.90,1109.02 L876.07,1108.15 L880.23,1107.25 L884.39,1106.33 L888.55,1105.39 L892.71,1104.44 L896.87,1103.49 L901.04,1102.52 L905.20,1101.56 L909.36,1100.60 L913.52,1099.66 L917.68,1098.72 L921.85,1097.81 L926.01,1096.91 L930.17,1096.05 L934.33,1095.21 L938.49,1094.42 L942.65,1093.66 L946.82,1092.95 L950.98,1092.29 L955.14,1091.68 L959.30,1091.13 L963.46,1090.62 L967.62,1090.17 L971.79,1089.76 L975.95,1089.41 L980.11,1089.09 L984.27,1088.83 L988.43,1088.60 L992.60,1088.42 L996.76,1088.27 L1000.92,1088.17 L1005.08,1088.10 L1009.24,1088.07 L1013.40,1088.07 L1017.57,1088.10 L1021.73,1088.16 L1025.89,1088.26 L1030.05,1088.38 L1034.21,1088.53 L1038.37,1088.70 L1042.54,1088.90 L1046.70,1089.12 L1050.86,1089.36 L1055.02,1089.62 L1059.18,1089.89 L1063.35,1090.18 L1067.51,1090.47 L1071.67,1090.76 L1075.83,1091.05 L1079.99,1091.34 L1084.15,1091.61 L1088.32,1091.87 L1092.48,1092.11 L1096.64,1092.33 L1100.80,1092.52 L1104.96,1092.68 L1109.12,1092.80 L1113.29,1092.88 L1117.45,1092.91 L1121.61,1092.90 L1125.77,1092.83 L1129.93,1092.70 L1134.10,1092.52 L1138.26,1092.26 L1142.42,1091.94 L1146.58,1091.54 L1150.74,1091.06 L1154.90,1090.50 L1159.07,1089.86 L1163.23,1089.14 L1167.39,1088.36 L1171.55,1087.51 L1175.71,1086.60 L1179.87,1085.63 L1184.04,1084.61 L1188.20,1083.55 L1192.36,1082.44 L1196.52,1081.30 L1200.68,1080.12 L1204.85,1078.91 L1209.01,1077.68 L1213.17,1076.43 L1217.33,1075.16 L1221.49,1073.89 L1225.65,1072.61 L1229.82,1071.33 L1233.98,1070.05 L1238.14,1068.78 L1242.30,1067.52 L1246.46,1066.28 L1250.62,1065.06 L1254.79,1063.86 L1258.95,1062.70 L1263.11,1061.55 L1267.27,1060.43 L1271.43,1059.32 L1275.60,1058.24 L1279.76,1057.17 L1283.92,1056.12 L1288.08,1055.09 L1292.24,1054.07 L1296.40,1053.06 L1300.57,1052.06 L1304.73,1051.07 L1308.89,1050.09 L1313.05,1049.11 L1317.21,1048.14 L1321.38,1047.17 L1325.54,1046.20 L1329.70,1045.24 L1333.86,1044.27 L1338.02,1043.30 L1342.18,1042.33 L1346.35,1041.35 L1350.51,1040.36 L1354.67,1039.36 L1358.83,1038.36 L1362.99,1037.36 L1367.15,1036.35 L1371.32,1035.34 L1375.48,1034.32 L1379.64,1033.31 L1383.80,1032.31 L1387.96,1031.30 L1392.13,1030.30 L1396.29,1029.31 L1400.45,1028.33 L1404.61,1027.36 L1408.77,1026.41 L1412.93,1025.46 L1417.10,1024.53 L1421.26,1023.62 L1425.42,1022.73 L1429.58,1021.86 L1433.74,1021.01 L1437.90,1020.18 L1442.07,1019.38 L1446.23,1018.61 L1450.39,1017.86 L1454.55,1017.15 L1458.71,1016.45 L1462.88,1015.78 L1467.04,1015.13 L1471.20,1014.49 L1475.36,1013.86 L1479.52,1013.23 L1483.68,1012.60 L1487.85,1011.96 L1492.01,1011.32 L1496.17,1010.66 L1500.33,1009.98 L1504.49,1009.28 L1508.65,1008.55 L1512.82,1007.80 L1516.98,1007.00 L1521.14,1006.17 L1525.30,1005.29 L1529.46,1004.36 L1533.63,1003.38 L1537.79,1002.34 L1541.95,1001.24 L1546.11,1000.07 L1550.27,998.83 L1554.43,997.51 L1558.60,996.13 L1562.76,994.68 L1566.92,993.16 L1571.08,991.58 L1575.24,989.94 L1579.40,988.25 L1583.57,986.52 L1587.73,984.73 L1591.89,982.90 L1596.05,981.04 L1600.21,979.14 L1604.38,977.20 L1608.54,975.24 L1612.70,973.26 L1616.86,971.26 L1621.02,969.23 L1625.18,967.20 L1629.35,965.16 L1633.51,963.11 L1637.67,961.05 L1641.83,959.00 L1645.99,956.96 L1650.15,954.92 L1654.32,952.90 L1658.48,950.88 L1662.64,948.88 L1666.80,946.89 L1670.96,944.90 L1675.13,942.92 L1679.29,940.95 L1683.45,938.99 L1687.61,937.02 L1691.77,935.06 L1695.93,933.11 L1700.10,931.15 L1704.26,929.20 L1708.42,927.24 L1712.58,925.28 L1716.74,923.32 L1720.91,921.35 L1725.07,919.38 L1729.23,917.40 L1733.39,915.42 L1737.55,913.42 L1741.71,911.42 L1745.88,909.41 L1750.04,907.38 L1754.20,905.34 L1758.37,903.29 L1762.54,901.22 L1766.72,899.14 L1770.92,897.03 L1775.14,894.90 L1779.38,892.75 L1783.64,890.57 L1787.93,888.36 L1792.26,886.13 L1796.62,883.86 L1801.02,881.56 L1805.46,879.22 L1809.95,876.84 L1814.50,874.43 L1819.09,871.97 L1823.75,869.47 L1828.46,866.92 L1833.24,864.33 L1838.09,861.69 L1843.01,859.00 L1848.01,856.25 L1853.08,853.45 L1858.24,850.59 L1863.49,847.67 L1868.85,844.69 L1874.32,841.65 L1879.94,838.53 L1885.71,835.33 L1891.67,832.06 L1897.82,828.71 L1904.18,825.26 L1910.77,821.73 L1917.61,818.10 L1924.72,814.37 L1932.11,810.54 L1939.81,806.60 L1947.83,802.54 L1956.19,798.38 L1964.91,794.09 L1974.00,789.68 L1983.49,785.14 L1993.38,780.47 L2003.71,775.66 L2014.49,770.71 L2025.73,765.62 L2037.46,760.38 L2049.68,754.98" fill="none" stroke="#ff00ff" stroke-width="3.9" stroke-linejoin="round"/>
<g fill="#ff00ff">
<rect x="444.56" y="1384.69" width="14.0" height="14.0"/>
<rect x="544.45" y="1237.10" width="14.0" height="14.0"/>
<rect x="644.33" y="1145.63" width="14.0" height="14.0"/>
<rect x="744.21" y="1110.96" width="14.0" height="14.0"/>
<rect x="844.10" y="1110.96" width="14.0" height="14.0"/>
<rect x="943.98" y="1080.07" width="14.0" height="14.0"/>
<rect x="1043.86" y="1080.50" width="14.0" height="14.0"/>
<rect x="1143.74" y="1092.08" width="14.0" height="14.0"/>
<rect x="1243.62" y="1055.53" width="14.0" height="14.0"/>
<rect x="1343.51" y="1034.16" width="14.0" height="14.0"/>
<rect x="1443.39" y="1007.99" width="14.0" height="14.0"/>
<rect x="1543.27" y="999.06" width="14.0" height="14.0"/>
<rect x="1643.15" y="946.72" width="14.0" height="14.0"/>
<rect x="1743.04" y="901.58" width="14.0" height="14.0"/>
<rect x="1842.92" y="849.24" width="14.0" height="14.0"/>
<rect x="1942.80" y="791.75" width="14.0" height="14.0"/>
<rect x="2042.68" y="747.98" width="14.0" height="14.0"/>
</g>
<path d="M251.80,1461.20 L264.03,1461.04 L275.75,1460.56 L287.00,1459.77 L297.77,1458.69 L308.10,1457.33 L318.00,1455.71 L327.48,1453.83 L336.58,1451.71 L345.29,1449.37 L353.65,1446.81 L361.67,1444.04 L369.37,1441.09 L376.76,1437.96 L383.87,1434.67 L390.72,1431.22 L397.31,1427.64 L403.67,1423.93 L409.82,1420.11 L415.77,1416.19 L421.55,1412.19 L427.16,1408.11 L432.64,1403.97 L437.99,1399.78 L443.24,1395.56 L448.40,1391.31 L453.48,1387.04 L458.47,1382.74 L463.40,1378.43 L468.24,1374.09 L473.02,1369.72 L477.74,1365.33 L482.39,1360.92 L486.99,1356.48 L491.53,1352.02 L496.02,1347.53 L500.47,1343.01 L504.87,1338.47 L509.23,1333.91 L513.55,1329.31 L517.85,1324.69 L522.11,1320.05 L526.35,1315.37 L530.56,1310.67 L534.76,1305.93 L538.95,1301.17 L543.12,1296.39 L547.29,1291.57 L551.45,1286.72 L555.61,1281.84 L559.77,1276.94 L563.93,1272.00 L568.09,1267.04 L572.26,1262.05 L576.42,1257.03 L580.58,1251.99 L584.74,1246.93 L588.90,1241.84 L593.07,1236.73 L597.23,1231.59 L601.39,1226.44 L605.55,1221.26 L609.71,1216.06 L613.87,1210.85 L618.04,1205.61 L622.20,1200.36 L626.36,1195.09 L630.52,1189.80 L634.68,1184.50 L638.84,1179.19 L643.01,1173.85 L647.17,1168.51 L651.33,1163.15 L655.49,1157.78 L659.65,1152.40 L663.82,1147.00 L667.98,1141.59 L672.14,1136.15 L676.30,1130.70 L680.46,1125.22 L684.62,1119.71 L688.79,1114.18 L692.95,1108.63 L697.11,1103.04 L701.27,1097.42 L705.43,1091.77 L709.59,1086.08 L713.76,1080.35 L717.92,1074.59 L722.08,1068.78 L726.24,1062.94 L730.40,1057.04 L734.57,1051.11 L738.73,1045.12 L742.89,1039.09 L747.05,1033.00 L751.21,1026.86 L755.37,1020.66 L759.54,1014.42 L763.70,1008.13 L767.86,1001.79 L772.02,995.42 L776.18,989.01 L780.34,982.57 L784.51,976.11 L788.67,969.62 L792.83,963.12 L796.99,956.61 L801.15,950.08 L805.32,943.55 L809.48,937.02 L813.64,930.49 L817.80,923.97 L821.96,917.46 L826.12,910.97 L830.29,904.49 L834.45,898.04 L838.61,891.62 L842.77,885.23 L846.93,878.88 L851.10,872.57 L855.26,866.31 L859.42,860.09 L863.58,853.93 L867.74,847.84 L871.90,841.81 L876.07,835.85 L880.23,829.98 L884.39,824.19 L888.55,818.48 L892.71,812.88 L896.87,807.38 L901.04,801.98 L905.20,796.70 L909.36,791.54 L913.52,786.50 L917.68,781.60 L921.85,776.83 L926.01,772.20 L930.17,767.72 L934.33,763.39 L938.49,759.23 L942.65,755.22 L946.82,751.39 L950.98,747.73 L955.14,744.26 L959.30,740.95 L963.46,737.81 L967.62,734.83 L971.79,732.00 L975.95,729.31 L980.11,726.75 L984.27,724.31 L988.43,721.98 L992.60,719.77 L996.76,717.65 L1000.92,715.62 L1005.08,713.67 L1009.24,711.80 L1013.40,709.99 L1017.57,708.24 L1021.73,706.53 L1025.89,704.86 L1030.05,703.23 L1034.21,701.62 L1038.37,700.02 L1042.54,698.43 L1046.70,696.84 L1050.86,695.23 L1055.02,693.61 L1059.18,691.97 L1063.35,690.33 L1067.51,688.67 L1071.67,687.01 L1075.83,685.36 L1079.99,683.71 L1084.15,682.07 L1088.32,680.44 L1092.48,678.83 L1096.64,677.24 L1100.80,675.68 L1104.96,674.14 L1109.12,672.64 L1113.29,671.18 L1117.45,669.76 L1121.61,668.38 L1125.77,667.06 L1129.93,665.79 L1134.10,664.57 L1138.26,663.42 L1142.42,662.33 L1146.58,661.32 L1150.74,660.38 L1154.90,659.51 L1159.07,658.72 L1163.23,658.01 L1167.39,657.36 L1171.55,656.78 L1175.71,656.26 L1179.87,655.80 L1184.04,655.40 L1188.20,655.05 L1192.36,654.75 L1196.52,654.50 L1200.68,654.29 L1204.85,654.13 L1209.01,654.00 L1213.17,653.91 L1217.33,653.85 L1221.49,653.82 L1225.65,653.81 L1229.82,653.83 L1233.98,653.87 L1238.14,653.92 L1242.30,653.99 L1246.46,654.07 L1250.62,654.16 L1254.79,654.25 L1258.95,654.34 L1263.11,654.44 L1267.27,654.54 L1271.43,654.64 L1275.60,654.74 L1279.76,654.84 L1283.92,654.94 L1288.08,655.04 L1292.24,655.13 L1296.40,655.22 L1300.57,655.30 L1304.73,655.38 L1308.89,655.45 L1313.05,655.51 L1317.21,655.57 L1321.38,655.61 L1325.54,655.65 L1329.70,655.67 L1333.86,655.68 L1338.02,655.68 L1342.18,655.66 L1346.35,655.63 L1350.51,655.59 L1354.67,655.53 L1358.83,655.45 L1362.99,655.35 L1367.15,655.24 L1371.32,655.11 L1375.48,654.96 L1379.64,654.79 L1383.80,654.61 L1387.96,654.40 L1392.13,654.18 L1396.29,653.94 L1400.45,653.67 L1404.61,653.39 L1408.77,653.09 L1412.93,652.76 L1417.10,652.42 L1421.26,652.05 L1425.42,651.67 L1429.58,651.26 L1433.74,650.82 L1437.90,650.37 L1442.07,649.89 L1446.23,649.39 L1450.39,648.87 L1454.55,648.32 L1458.71,647.75 L1462.88,647.16 L1467.04,646.55 L1471.20,645.93 L1475.36,645.29 L1479.52,644.64 L1483.68,643.98 L1487.85,643.31 L1492.01,642.63 L1496.17,641.95 L1500.33,641.27 L1504.49,640.58 L1508.65,639.90 L1512.82,639.22 L1516.98,638.55 L1521.14,637.88 L1525.30,637.22 L1529.46,636.57 L1533.63,635.94 L1537.79,635.32 L1541.95,634.71 L1546.11,634.13 L1550.27,633.56 L1554.43,633.02 L1558.60,632.50 L1562.76,632.00 L1566.92,631.52 L1571.08,631.06 L1575.24,630.62 L1579.40,630.20 L1583.57,629.79 L1587.73,629.40 L1591.89,629.03 L1596.05,628.68 L1600.21,628.34 L1604.38,628.02 L1608.54,627.71 L1612.70,627.41 L1616.86,627.13 L1621.02,626.86 L1625.18,626.60 L1629.35,626.36 L1633.51,626.12 L1637.67,625.89 L1641.83,625.68 L1645.99,625.47 L1650.15,625.27 L1654.32,625.07 L1658.48,624.89 L1662.64,624.71 L1666.80,624.54 L1670.96,624.38 L1675.13,624.22 L1679.29,624.08 L1683.45,623.94 L1687.61,623.81 L1691.77,623.68 L1695.93,623.57 L1700.10,623.46 L1704.26,623.36 L1708.42,623.27 L1712.58,623.19 L1716.74,623.12 L1720.91,623.05 L1725.07,622.99 L1729.23,622.95 L1733.39,622.91 L1737.55,622.88 L1741.71,622.85 L1745.88,622.84 L1750.04,622.84 L1754.20,622.84 L1758.37,622.85 L1762.54,622.87 L1766.72,622.90 L1770.92,622.92 L1775.14,622.96 L1779.38,622.99 L1783.64,623.03 L1787.93,623.06 L1792.26,623.10 L1796.62,623.13 L1801.02,623.16 L1805.46,623.18 L1809.95,623.20 L1814.50,623.21 L1819.09,623.22 L1823.75,623.21 L1828.46,623.20 L1833.24,623.17 L1838.09,623.13 L1843.01,623.08 L1848.01,623.02 L1853.08,622.93 L1858.24,622.84 L1863.49,622.72 L1868.85,622.58 L1874.32,622.41 L1879.94,622.22 L1885.71,621.98 L1891.67,621.71 L1897.82,621.39 L1904.18,621.02 L1910.77,620.60 L1917.61,620.12 L1924.72,619.58 L1932.11,618.97 L1939.81,618.29 L1947.83,617.54 L1956.19,616.70 L1964.91,615.78 L1974.00,614.77 L1983.49,613.67 L1993.38,612.46 L2003.71,611.16 L2014.49,609.74 L2025.73,608.22 L2037.46,606.58 L2049.68,604.82" fill="none" stroke="#800000" stroke-width="3.9" stroke-linejoin="round"/>
<g fill="#800000">
<rect x="244.80" y="1454.20" width="14.0" height="14.0"/>
<rect x="344.68" y="1454.20" width="14.0" height="14.0"/>
<rect x="444.56" y="1390.70" width="14.0" height="14.0"/>
<rect x="544.45" y="1282.58" width="14.0" height="14.0"/>
<rect x="644.33" y="1157.30" width="14.0" height="14.0"/>
<rect x="744.21" y="1025.15" width="14.0" height="14.0"/>
<rect x="844.10" y="861.25" width="14.0" height="14.0"/>
<rect x="943.98" y="723.27" width="14.0" height="14.0"/>
<rect x="1043.86" y="690.06" width="14.0" height="14.0"/>
<rect x="1143.74" y="645.87" width="14.0" height="14.0"/>
<rect x="1243.62" y="646.73" width="14.0" height="14.0"/>
<rect x="1343.51" y="650.16" width="14.0" height="14.0"/>
<rect x="1443.39" y="644.15" width="14.0" height="14.0"/>
<rect x="1543.27" y="624.42" width="14.0" height="14.0"/>
<rect x="1643.15" y="617.55" width="14.0" height="14.0"/>
<rect x="1743.04" y="614.98" width="14.0" height="14.0"/>
<rect x="1842.92" y="617.55" width="14.0" height="14.0"/>
<rect x="1942.80" y="612.40" width="14.0" height="14.0"/>
<rect x="2042.68" y="597.82" width="14.0" height="14.0"/>
</g>
<path d="M251.80,1461.20 L264.03,1461.20 L275.75,1461.20 L287.00,1461.20 L297.77,1461.20 L308.10,1461.20 L318.00,1461.20 L327.48,1461.20 L336.58,1461.20 L345.29,1461.20 L353.65,1461.20 L361.67,1461.20 L369.37,1461.20 L376.76,1461.20 L383.87,1461.20 L390.72,1461.20 L397.31,1461.20 L403.67,1461.20 L409.82,1461.20 L415.77,1461.20 L421.55,1461.20 L427.16,1461.20 L432.64,1461.20 L437.99,1461.20 L443.24,1461.20 L448.40,1461.20 L453.48,1461.20 L458.47,1461.20 L463.40,1461.20 L468.24,1461.20 L473.02,1461.20 L477.74,1461.20 L482.39,1461.20 L486.99,1461.20 L491.53,1461.20 L496.02,1461.20 L500.47,1461.20 L504.87,1461.20 L509.23,1461.20 L513.55,1461.20 L517.85,1461.20 L522.11,1461.20 L526.35,1461.20 L530.56,1461.20 L534.76,1461.20 L538.95,1461.20 L543.12,1461.20 L547.29,1461.20 L551.45,1461.20 L555.61,1461.20 L559.77,1461.20 L563.93,1461.20 L568.09,1461.20 L572.26,1461.20 L576.42,1461.20 L580.58,1461.20 L584.74,1461.20 L588.90,1461.20 L593.07,1461.20 L597.23,1461.20 L601.39,1461.20 L605.55,1461.20 L609.71,1461.20 L613.87,1461.20 L618.04,1461.20 L622.20,1461.20 L626.36,1461.20 L630.52,1461.20 L634.68,1461.20 L638.84,1461.20 L643.01,1461.20 L647.17,1461.20 L651.33,1461.20 L655.49,1461.20 L659.65,1461.20 L663.82,1461.20 L667.98,1461.20 L672.14,1461.20 L676.30,1461.19 L680.46,1461.19 L684.62,1461.18 L688.79,1461.18 L692.95,1461.17 L697.11,1461.16 L701.27,1461.15 L705.43,1461.13 L709.59,1461.11 L713.76,1461.10 L717.92,1461.07 L722.08,1461.05 L726.24,1461.02 L730.40,1460.99 L734.57,1460.95 L738.73,1460.91 L742.89,1460.87 L747.05,1460.82 L751.21,1460.77 L755.37,1460.71 L759.54,1460.65 L763.70,1460.58 L767.86,1460.49 L772.02,1460.39 L776.18,1460.28 L780.34,1460.14 L784.51,1459.98 L788.67,1459.80 L792.83,1459.59 L796.99,1459.35 L801.15,1459.07 L805.32,1458.76 L809.48,1458.42 L813.64,1458.03 L817.80,1457.60 L821.96,1457.13 L826.12,1456.61 L830.29,1456.04 L834.45,1455.41 L838.61,1454.73 L842.77,1453.99 L846.93,1453.19 L851.10,1452.33 L855.26,1451.41 L859.42,1450.41 L863.58,1449.34 L867.74,1448.19 L871.90,1446.97 L876.07,1445.66 L880.23,1444.26 L884.39,1442.77 L888.55,1441.19 L892.71,1439.51 L896.87,1437.72 L901.04,1435.83 L905.20,1433.83 L909.36,1431.72 L913.52,1429.49 L917.68,1427.14 L921.85,1424.67 L926.01,1422.06 L930.17,1419.33 L934.33,1416.46 L938.49,1413.46 L942.65,1410.31 L946.82,1407.01 L950.98,1403.56 L955.14,1399.97 L959.30,1396.21 L963.46,1392.30 L967.62,1388.23 L971.79,1384.00 L975.95,1379.61 L980.11,1375.06 L984.27,1370.34 L988.43,1365.45 L992.60,1360.39 L996.76,1355.17 L1000.92,1349.77 L1005.08,1344.20 L1009.24,1338.46 L1013.40,1332.53 L1017.57,1326.43 L1021.73,1320.15 L1025.89,1313.69 L1030.05,1307.04 L1034.21,1300.20 L1038.37,1293.19 L1042.54,1285.98 L1046.70,1278.58 L1050.86,1270.99 L1055.02,1263.21 L1059.18,1255.25 L1063.35,1247.12 L1067.51,1238.85 L1071.67,1230.45 L1075.83,1221.94 L1079.99,1213.32 L1084.15,1204.61 L1088.32,1195.84 L1092.48,1187.01 L1096.64,1178.15 L1100.80,1169.25 L1104.96,1160.36 L1109.12,1151.47 L1113.29,1142.60 L1117.45,1133.77 L1121.61,1124.99 L1125.77,1116.29 L1129.93,1107.67 L1134.10,1099.14 L1138.26,1090.74 L1142.42,1082.47 L1146.58,1074.34 L1150.74,1066.37 L1154.90,1058.58 L1159.07,1050.97 L1163.23,1043.54 L1167.39,1036.28 L1171.55,1029.21 L1175.71,1022.31 L1179.87,1015.58 L1184.04,1009.04 L1188.20,1002.68 L1192.36,996.49 L1196.52,990.48 L1200.68,984.65 L1204.85,979.00 L1209.01,973.53 L1213.17,968.24 L1217.33,963.12 L1221.49,958.19 L1225.65,953.43 L1229.82,948.86 L1233.98,944.46 L1238.14,940.24 L1242.30,936.20 L1246.46,932.34 L1250.62,928.66 L1254.79,925.16 L1258.95,921.83 L1263.11,918.67 L1267.27,915.67 L1271.43,912.83 L1275.60,910.13 L1279.76,907.58 L1283.92,905.16 L1288.08,902.87 L1292.24,900.71 L1296.40,898.66 L1300.57,896.72 L1304.73,894.89 L1308.89,893.16 L1313.05,891.51 L1317.21,889.96 L1321.38,888.48 L1325.54,887.08 L1329.70,885.74 L1333.86,884.47 L1338.02,883.25 L1342.18,882.08 L1346.35,880.95 L1350.51,879.85 L1354.67,878.79 L1358.83,877.75 L1362.99,876.73 L1367.15,875.72 L1371.32,874.73 L1375.48,873.74 L1379.64,872.75 L1383.80,871.76 L1387.96,870.76 L1392.13,869.74 L1396.29,868.70 L1400.45,867.64 L1404.61,866.55 L1408.77,865.43 L1412.93,864.27 L1417.10,863.06 L1421.26,861.81 L1425.42,860.50 L1429.58,859.14 L1433.74,857.71 L1437.90,856.21 L1442.07,854.64 L1446.23,852.99 L1450.39,851.26 L1454.55,849.45 L1458.71,847.55 L1462.88,845.58 L1467.04,843.53 L1471.20,841.43 L1475.36,839.26 L1479.52,837.05 L1483.68,834.78 L1487.85,832.48 L1492.01,830.15 L1496.17,827.79 L1500.33,825.41 L1504.49,823.01 L1508.65,820.60 L1512.82,818.19 L1516.98,815.78 L1521.14,813.38 L1525.30,810.99 L1529.46,808.63 L1533.63,806.29 L1537.79,803.98 L1541.95,801.71 L1546.11,799.49 L1550.27,797.32 L1554.43,795.20 L1558.60,793.14 L1562.76,791.13 L1566.92,789.18 L1571.08,787.28 L1575.24,785.43 L1579.40,783.63 L1583.57,781.88 L1587.73,780.18 L1591.89,778.52 L1596.05,776.92 L1600.21,775.35 L1604.38,773.84 L1608.54,772.36 L1612.70,770.93 L1616.86,769.54 L1621.02,768.19 L1625.18,766.88 L1629.35,765.60 L1633.51,764.37 L1637.67,763.17 L1641.83,762.00 L1645.99,760.87 L1650.15,759.77 L1654.32,758.71 L1658.48,757.67 L1662.64,756.64 L1666.80,755.63 L1670.96,754.62 L1675.13,753.61 L1679.29,752.59 L1683.45,751.55 L1687.61,750.49 L1691.77,749.40 L1695.93,748.27 L1700.10,747.09 L1704.26,745.86 L1708.42,744.58 L1712.58,743.23 L1716.74,741.80 L1720.91,740.30 L1725.07,738.71 L1729.23,737.02 L1733.39,735.24 L1737.55,733.35 L1741.71,731.34 L1745.88,729.21 L1750.04,726.95 L1754.20,724.56 L1758.37,722.04 L1762.54,719.41 L1766.72,716.66 L1770.92,713.80 L1775.14,710.85 L1779.38,707.82 L1783.64,704.70 L1787.93,701.51 L1792.26,698.26 L1796.62,694.95 L1801.02,691.59 L1805.46,688.19 L1809.95,684.76 L1814.50,681.31 L1819.09,677.84 L1823.75,674.36 L1828.46,670.88 L1833.24,667.41 L1838.09,663.95 L1843.01,660.52 L1848.01,657.12 L1853.08,653.75 L1858.24,650.44 L1863.49,647.18 L1868.85,643.98 L1874.32,640.85 L1879.94,637.79 L1885.71,634.82 L1891.67,631.94 L1897.82,629.15 L1904.18,626.47 L1910.77,623.90 L1917.61,621.44 L1924.72,619.10 L1932.11,616.90 L1939.81,614.83 L1947.83,612.91 L1956.19,611.14 L1964.91,609.53 L1974.00,608.08 L1983.49,606.80 L1993.38,605.70 L2003.71,604.78 L2014.49,604.05 L2025.73,603.53 L2037.46,603.21 L2049.68,603.10" fill="none" stroke="#3cd524" stroke-width="3.9" stroke-linejoin="round" stroke-dasharray="19 16.47"/>
<g fill="#3cd524">
<rect x="244.80" y="1454.20" width="14.0" height="14.0"/>
<rect x="344.68" y="1454.20" width="14.0" height="14.0"/>
<rect x="444.56" y="1454.20" width="14.0" height="14.0"/>
<rect x="544.45" y="1454.20" width="14.0" height="14.0"/>
<rect x="644.33" y="1454.20" width="14.0" height="14.0"/>
<rect x="744.21" y="1454.20" width="14.0" height="14.0"/>
<rect x="844.10" y="1451.63" width="14.0" height="14.0"/>
<rect x="943.98" y="1411.30" width="14.0" height="14.0"/>
<rect x="1043.86" y="1282.58" width="14.0" height="14.0"/>
<rect x="1143.74" y="1042.31" width="14.0" height="14.0"/>
<rect x="1243.62" y="904.42" width="14.0" height="14.0"/>
<rect x="1343.51" y="870.01" width="14.0" height="14.0"/>
<rect x="1443.39" y="852.67" width="14.0" height="14.0"/>
<rect x="1543.27" y="784.88" width="14.0" height="14.0"/>
<rect x="1643.15" y="749.70" width="14.0" height="14.0"/>
<rect x="1743.04" y="732.97" width="14.0" height="14.0"/>
<rect x="1842.92" y="638.15" width="14.0" height="14.0"/>
<rect x="1942.80" y="596.10" width="14.0" height="14.0"/>
<rect x="2042.68" y="596.10" width="14.0" height="14.0"/>
</g>
</g>
<g clip-path="url(#ct)">
<path d="M1050.86,150.23 L1063.09,149.59 L1074.81,149.05 L1086.06,148.60 L1096.83,148.22 L1107.16,147.93 L1117.06,147.70 L1126.54,147.55 L1135.64,147.46 L1144.35,147.42 L1152.71,147.44 L1160.73,147.51 L1168.43,147.62 L1175.82,147.77 L1182.93,147.95 L1189.78,148.17 L1196.37,148.41 L1202.73,148.67 L1208.88,148.94 L1214.83,149.23 L1220.61,149.52 L1226.22,149.82 L1231.70,150.11 L1237.05,150.39 L1242.30,150.66 L1247.46,150.91 L1252.54,151.15 L1257.53,151.37 L1262.46,151.58 L1267.30,151.77 L1272.08,151.96 L1276.80,152.13 L1281.45,152.30 L1286.05,152.46 L1290.59,152.62 L1295.08,152.77 L1299.53,152.92 L1303.93,153.07 L1308.29,153.22 L1312.61,153.37 L1316.91,153.53 L1321.17,153.68 L1325.41,153.85 L1329.62,154.02 L1333.82,154.20 L1338.01,154.39 L1342.18,154.59 L1346.35,154.81 L1350.51,155.04 L1354.67,155.28 L1358.83,155.54 L1362.99,155.81 L1367.15,156.10 L1371.32,156.40 L1375.48,156.71 L1379.64,157.03 L1383.80,157.36 L1387.96,157.70 L1392.13,158.05 L1396.29,158.41 L1400.45,158.78 L1404.61,159.15 L1408.77,159.53 L1412.93,159.91 L1417.10,160.29 L1421.26,160.68 L1425.42,161.08 L1429.58,161.47 L1433.74,161.86 L1437.90,162.26 L1442.07,162.65 L1446.23,163.05 L1450.39,163.44 L1454.55,163.82 L1458.71,164.21 L1462.88,164.59 L1467.04,164.97 L1471.20,165.34 L1475.36,165.71 L1479.52,166.08 L1483.68,166.44 L1487.85,166.80 L1492.01,167.15 L1496.17,167.50 L1500.33,167.85 L1504.49,168.19 L1508.65,168.52 L1512.82,168.85 L1516.98,169.17 L1521.14,169.49 L1525.30,169.80 L1529.46,170.10 L1533.63,170.40 L1537.79,170.69 L1541.95,170.97 L1546.11,171.25 L1550.27,171.52 L1554.43,171.78 L1558.60,172.04 L1562.76,172.29 L1566.92,172.53 L1571.08,172.78 L1575.24,173.01 L1579.40,173.25 L1583.57,173.49 L1587.73,173.72 L1591.89,173.95 L1596.05,174.19 L1600.21,174.43 L1604.38,174.67 L1608.54,174.91 L1612.70,175.16 L1616.86,175.42 L1621.02,175.68 L1625.18,175.94 L1629.35,176.22 L1633.51,176.51 L1637.67,176.80 L1641.83,177.11 L1645.99,177.42 L1650.15,177.75 L1654.32,178.09 L1658.48,178.44 L1662.64,178.81 L1666.80,179.18 L1670.96,179.56 L1675.13,179.94 L1679.29,180.33 L1683.45,180.72 L1687.61,181.10 L1691.77,181.49 L1695.93,181.88 L1700.10,182.26 L1704.26,182.63 L1708.42,183.00 L1712.58,183.35 L1716.74,183.70 L1720.91,184.03 L1725.07,184.35 L1729.23,184.65 L1733.39,184.94 L1737.55,185.20 L1741.71,185.45 L1745.88,185.67 L1750.04,185.87 L1754.20,186.05 L1758.37,186.20 L1762.54,186.33 L1766.72,186.43 L1770.92,186.51 L1775.14,186.58 L1779.38,186.62 L1783.64,186.65 L1787.93,186.65 L1792.26,186.65 L1796.62,186.62 L1801.02,186.59 L1805.46,186.54 L1809.95,186.48 L1814.50,186.40 L1819.09,186.32 L1823.75,186.23 L1828.46,186.13 L1833.24,186.03 L1838.09,185.91 L1843.01,185.80 L1848.01,185.68 L1853.08,185.56 L1858.24,185.43 L1863.49,185.31 L1868.85,185.19 L1874.32,185.07 L1879.94,184.96 L1885.71,184.86 L1891.67,184.77 L1897.82,184.70 L1904.18,184.65 L1910.77,184.62 L1917.61,184.61 L1924.72,184.63 L1932.11,184.68 L1939.81,184.76 L1947.83,184.88 L1956.19,185.03 L1964.91,185.22 L1974.00,185.45 L1983.49,185.73 L1993.38,186.06 L2003.71,186.44 L2014.49,186.87 L2025.73,187.35 L2037.46,187.90 L2049.68,188.51" fill="none" stroke="#3cd524" stroke-width="3.9" stroke-linejoin="round"/>
<g fill="#3cd524">
<rect x="1043.86" y="143.23" width="14.0" height="14.0"/>
<rect x="1143.74" y="137.78" width="14.0" height="14.0"/>
<rect x="1243.62" y="145.36" width="14.0" height="14.0"/>
<rect x="1343.51" y="146.54" width="14.0" height="14.0"/>
<rect x="1443.39" y="156.71" width="14.0" height="14.0"/>
<rect x="1543.27" y="165.23" width="14.0" height="14.0"/>
<rect x="1643.15" y="169.49" width="14.0" height="14.0"/>
<rect x="1743.04" y="181.32" width="14.0" height="14.0"/>
<rect x="1842.92" y="178.48" width="14.0" height="14.0"/>
<rect x="1942.80" y="176.40" width="14.0" height="14.0"/>
<rect x="2042.68" y="181.51" width="14.0" height="14.0"/>
</g>
<path d="M1650.15,88.00 L1662.38,88.00 L1674.11,88.00 L1685.37,88.00 L1696.17,88.00 L1706.53,88.00 L1716.48,88.00 L1726.05,88.00 L1735.24,88.00 L1744.09,88.00 L1752.61,88.00 L1760.83,88.00 L1768.77,88.00 L1776.44,88.00 L1783.88,88.00 L1791.10,88.00 L1798.13,88.00 L1804.98,88.00 L1811.68,88.00 L1818.26,88.00 L1824.72,88.00 L1831.09,88.00 L1837.41,88.00 L1843.67,88.00 L1849.92,88.00 L1856.17,88.00 L1862.43,88.00 L1868.75,88.00 L1875.12,88.00 L1881.58,88.00 L1888.16,88.00 L1894.86,88.00 L1901.71,88.00 L1908.74,88.00 L1915.96,88.00 L1923.40,88.00 L1931.07,88.00 L1939.01,88.00 L1947.23,88.00 L1955.75,88.00 L1964.60,88.00 L1973.79,88.00 L1983.36,88.00 L1993.31,88.00 L2003.67,88.00 L2014.47,88.00 L2025.73,88.00 L2037.46,88.00 L2049.68,88.00" fill="none" stroke="#ff8000" stroke-width="3.9" stroke-linejoin="round"/>
<g fill="#ff8000">
<rect x="1643.15" y="81.00" width="14.0" height="14.0"/>
<rect x="1743.04" y="81.00" width="14.0" height="14.0"/>
<rect x="1842.92" y="81.00" width="14.0" height="14.0"/>
<rect x="1942.80" y="81.00" width="14.0" height="14.0"/>
<rect x="2042.68" y="81.00" width="14.0" height="14.0"/>
</g>
<path d="M651.33,101.91 L663.56,101.06 L675.28,100.89 L686.53,101.35 L697.30,102.41 L707.63,104.02 L717.53,106.15 L727.01,108.74 L736.11,111.76 L744.82,115.17 L753.18,118.92 L761.20,122.97 L768.90,127.28 L776.29,131.81 L783.40,136.52 L790.25,141.35 L796.84,146.28 L803.20,151.26 L809.35,156.24 L815.30,161.19 L821.08,166.06 L826.69,170.82 L832.17,175.41 L837.52,179.80 L842.77,183.94 L847.93,187.81 L853.01,191.39 L858.00,194.71 L862.93,197.77 L867.77,200.58 L872.55,203.15 L877.27,205.48 L881.92,207.59 L886.52,209.49 L891.06,211.18 L895.55,212.68 L900.00,213.98 L904.40,215.12 L908.76,216.08 L913.08,216.88 L917.38,217.54 L921.64,218.05 L925.88,218.43 L930.09,218.68 L934.29,218.83 L938.48,218.87 L942.65,218.81 L946.82,218.67 L950.98,218.45 L955.14,218.16 L959.30,217.80 L963.46,217.38 L967.62,216.90 L971.79,216.35 L975.95,215.75 L980.11,215.10 L984.27,214.39 L988.43,213.63 L992.60,212.82 L996.76,211.96 L1000.92,211.05 L1005.08,210.10 L1009.24,209.11 L1013.40,208.08 L1017.57,207.02 L1021.73,205.92 L1025.89,204.78 L1030.05,203.62 L1034.21,202.42 L1038.37,201.20 L1042.54,199.95 L1046.70,198.68 L1050.86,197.39 L1055.02,196.08 L1059.18,194.75 L1063.35,193.42 L1067.51,192.07 L1071.67,190.73 L1075.83,189.38 L1079.99,188.04 L1084.15,186.71 L1088.32,185.39 L1092.48,184.09 L1096.64,182.81 L1100.80,181.56 L1104.96,180.33 L1109.12,179.13 L1113.29,177.98 L1117.45,176.86 L1121.61,175.79 L1125.77,174.76 L1129.93,173.79 L1134.10,172.88 L1138.26,172.02 L1142.42,171.23 L1146.58,170.51 L1150.74,169.86 L1154.90,169.29 L1159.07,168.79 L1163.23,168.35 L1167.39,167.98 L1171.55,167.67 L1175.71,167.41 L1179.87,167.20 L1184.04,167.04 L1188.20,166.92 L1192.36,166.83 L1196.52,166.78 L1200.68,166.75 L1204.85,166.75 L1209.01,166.77 L1213.17,166.80 L1217.33,166.84 L1221.49,166.88 L1225.65,166.93 L1229.82,166.97 L1233.98,167.01 L1238.14,167.03 L1242.30,167.04 L1246.46,167.02 L1250.62,166.98 L1254.79,166.92 L1258.95,166.82 L1263.11,166.69 L1267.27,166.53 L1271.43,166.35 L1275.60,166.13 L1279.76,165.89 L1283.92,165.62 L1288.08,165.32 L1292.24,164.99 L1296.40,164.64 L1300.57,164.26 L1304.73,163.86 L1308.89,163.43 L1313.05,162.97 L1317.21,162.49 L1321.38,161.98 L1325.54,161.45 L1329.70,160.89 L1333.86,160.31 L1338.02,159.70 L1342.18,159.08 L1346.35,158.42 L1350.51,157.75 L1354.67,157.05 L1358.83,156.33 L1362.99,155.60 L1367.15,154.84 L1371.32,154.07 L1375.48,153.29 L1379.64,152.49 L1383.80,151.68 L1387.96,150.86 L1392.13,150.04 L1396.29,149.21 L1400.45,148.38 L1404.61,147.54 L1408.77,146.71 L1412.93,145.87 L1417.10,145.04 L1421.26,144.22 L1425.42,143.40 L1429.58,142.58 L1433.74,141.78 L1437.90,140.99 L1442.07,140.22 L1446.23,139.46 L1450.39,138.71 L1454.55,137.99 L1458.71,137.28 L1462.88,136.59 L1467.04,135.92 L1471.20,135.26 L1475.36,134.63 L1479.52,134.01 L1483.68,133.40 L1487.85,132.82 L1492.01,132.25 L1496.17,131.70 L1500.33,131.16 L1504.49,130.64 L1508.65,130.14 L1512.82,129.65 L1516.98,129.18 L1521.14,128.72 L1525.30,128.28 L1529.46,127.85 L1533.63,127.44 L1537.79,127.04 L1541.95,126.66 L1546.11,126.29 L1550.27,125.93 L1554.43,125.59 L1558.60,125.26 L1562.76,124.95 L1566.92,124.64 L1571.08,124.35 L1575.24,124.07 L1579.40,123.81 L1583.57,123.55 L1587.73,123.31 L1591.89,123.07 L1596.05,122.85 L1600.21,122.63 L1604.38,122.43 L1608.54,122.23 L1612.70,122.05 L1616.86,121.87 L1621.02,121.70 L1625.18,121.54 L1629.35,121.39 L1633.51,121.24 L1637.67,121.10 L1641.83,120.97 L1645.99,120.84 L1650.15,120.72 L1654.32,120.61 L1658.48,120.50 L1662.64,120.40 L1666.80,120.30 L1670.96,120.20 L1675.13,120.12 L1679.29,120.04 L1683.45,119.96 L1687.61,119.89 L1691.77,119.82 L1695.93,119.76 L1700.10,119.70 L1704.26,119.65 L1708.42,119.61 L1712.58,119.56 L1716.74,119.53 L1720.91,119.49 L1725.07,119.47 L1729.23,119.44 L1733.39,119.42 L1737.55,119.41 L1741.71,119.40 L1745.88,119.39 L1750.04,119.39 L1754.20,119.39 L1758.37,119.40 L1762.54,119.41 L1766.72,119.43 L1770.92,119.46 L1775.14,119.50 L1779.38,119.55 L1783.64,119.62 L1787.93,119.69 L1792.26,119.78 L1796.62,119.89 L1801.02,120.01 L1805.46,120.15 L1809.95,120.31 L1814.50,120.49 L1819.09,120.69 L1823.75,120.91 L1828.46,121.15 L1833.24,121.42 L1838.09,121.72 L1843.01,122.04 L1848.01,122.39 L1853.08,122.77 L1858.24,123.17 L1863.49,123.61 L1868.85,124.09 L1874.32,124.59 L1879.94,125.13 L1885.71,125.71 L1891.67,126.33 L1897.82,126.98 L1904.18,127.67 L1910.77,128.41 L1917.61,129.19 L1924.72,130.01 L1932.11,130.87 L1939.81,131.79 L1947.83,132.75 L1956.19,133.76 L1964.91,134.82 L1974.00,135.93 L1983.49,137.09 L1993.38,138.31 L2003.71,139.59 L2014.49,140.92 L2025.73,142.30 L2037.46,143.75 L2049.68,145.26" fill="none" stroke="#ff0000" stroke-width="3.9" stroke-linejoin="round"/>
<g fill="#ff0000">
<rect x="644.33" y="94.91" width="14.0" height="14.0"/>
<rect x="744.21" y="85.26" width="14.0" height="14.0"/>
<rect x="844.10" y="204.51" width="14.0" height="14.0"/>
<rect x="943.98" y="217.99" width="14.0" height="14.0"/>
<rect x="1043.86" y="192.20" width="14.0" height="14.0"/>
<rect x="1143.74" y="155.53" width="14.0" height="14.0"/>
<rect x="1243.62" y="162.86" width="14.0" height="14.0"/>
<rect x="1343.51" y="152.93" width="14.0" height="14.0"/>
<rect x="1443.39" y="129.93" width="14.0" height="14.0"/>
<rect x="1543.27" y="117.63" width="14.0" height="14.0"/>
<rect x="1643.15" y="113.18" width="14.0" height="14.0"/>
<rect x="1743.04" y="111.99" width="14.0" height="14.0"/>
<rect x="1842.92" y="113.18" width="14.0" height="14.0"/>
<rect x="1942.80" y="125.95" width="14.0" height="14.0"/>
<rect x="2042.68" y="138.26" width="14.0" height="14.0"/>
</g>
<path d="M1350.51,132.48 L1362.74,133.97 L1374.46,135.36 L1385.70,136.65 L1396.48,137.85 L1406.81,138.96 L1416.71,139.99 L1426.19,140.93 L1435.28,141.80 L1444.00,142.59 L1452.36,143.31 L1460.38,143.96 L1468.08,144.55 L1475.47,145.08 L1482.58,145.55 L1489.42,145.97 L1496.02,146.33 L1502.38,146.65 L1508.52,146.93 L1514.48,147.16 L1520.25,147.36 L1525.87,147.53 L1531.35,147.66 L1536.70,147.77 L1541.95,147.86 L1547.11,147.93 L1552.18,147.98 L1557.18,148.01 L1562.10,148.03 L1566.95,148.04 L1571.73,148.03 L1576.45,148.02 L1581.10,148.00 L1585.70,147.97 L1590.24,147.93 L1594.73,147.90 L1599.17,147.86 L1603.57,147.82 L1607.94,147.78 L1612.26,147.75 L1616.55,147.72 L1620.82,147.70 L1625.05,147.68 L1629.27,147.67 L1633.47,147.68 L1637.65,147.70 L1641.83,147.73 L1645.99,147.78 L1650.15,147.84 L1654.32,147.93 L1658.48,148.03 L1662.64,148.15 L1666.80,148.28 L1670.96,148.43 L1675.13,148.60 L1679.29,148.77 L1683.45,148.96 L1687.61,149.16 L1691.77,149.37 L1695.93,149.58 L1700.10,149.80 L1704.26,150.03 L1708.42,150.27 L1712.58,150.50 L1716.74,150.74 L1720.91,150.99 L1725.07,151.23 L1729.23,151.47 L1733.39,151.71 L1737.55,151.95 L1741.71,152.19 L1745.88,152.42 L1750.04,152.64 L1754.20,152.86 L1758.37,153.07 L1762.54,153.27 L1766.72,153.47 L1770.92,153.67 L1775.14,153.86 L1779.38,154.05 L1783.64,154.23 L1787.93,154.42 L1792.26,154.60 L1796.62,154.78 L1801.02,154.96 L1805.46,155.14 L1809.95,155.32 L1814.50,155.50 L1819.09,155.68 L1823.75,155.87 L1828.46,156.06 L1833.24,156.25 L1838.09,156.44 L1843.01,156.65 L1848.01,156.85 L1853.08,157.06 L1858.24,157.28 L1863.49,157.50 L1868.85,157.73 L1874.32,157.97 L1879.94,158.20 L1885.71,158.43 L1891.67,158.65 L1897.82,158.87 L1904.18,159.08 L1910.77,159.28 L1917.61,159.47 L1924.72,159.64 L1932.11,159.79 L1939.81,159.93 L1947.83,160.04 L1956.19,160.13 L1964.91,160.19 L1974.00,160.22 L1983.49,160.22 L1993.38,160.19 L2003.71,160.12 L2014.49,160.02 L2025.73,159.87 L2037.46,159.68 L2049.68,159.45" fill="none" stroke="#ff00ff" stroke-width="3.9" stroke-linejoin="round"/>
<g fill="#ff00ff">
<rect x="1343.51" y="125.48" width="14.0" height="14.0"/>
<rect x="1443.39" y="137.78" width="14.0" height="14.0"/>
<rect x="1543.27" y="142.71" width="14.0" height="14.0"/>
<rect x="1643.15" y="139.01" width="14.0" height="14.0"/>
<rect x="1743.04" y="146.30" width="14.0" height="14.0"/>
<rect x="1842.92" y="149.61" width="14.0" height="14.0"/>
<rect x="1942.80" y="154.49" width="14.0" height="14.0"/>
<rect x="2042.68" y="152.45" width="14.0" height="14.0"/>
</g>
<path d="M751.21,171.28 L763.44,171.91 L775.17,172.51 L786.41,173.07 L797.18,173.60 L807.51,174.10 L817.41,174.57 L826.90,175.02 L835.99,175.45 L844.71,175.87 L853.07,176.26 L861.08,176.65 L868.78,177.02 L876.18,177.39 L883.29,177.75 L890.13,178.11 L896.72,178.47 L903.08,178.83 L909.23,179.20 L915.18,179.58 L920.96,179.97 L926.58,180.37 L932.05,180.79 L937.41,181.23 L942.65,181.69 L947.81,182.18 L952.89,182.69 L957.89,183.23 L962.81,183.79 L967.66,184.38 L972.44,185.00 L977.15,185.64 L981.81,186.31 L986.40,187.02 L990.94,187.75 L995.43,188.51 L999.88,189.30 L1004.28,190.12 L1008.64,190.98 L1012.97,191.86 L1017.26,192.78 L1021.52,193.73 L1025.76,194.72 L1029.98,195.74 L1034.17,196.79 L1038.36,197.88 L1042.53,199.01 L1046.70,200.17 L1050.86,201.37 L1055.02,202.61 L1059.18,203.88 L1063.35,205.19 L1067.51,206.54 L1071.67,207.92 L1075.83,209.34 L1079.99,210.80 L1084.15,212.30 L1088.32,213.83 L1092.48,215.39 L1096.64,217.00 L1100.80,218.64 L1104.96,220.31 L1109.12,222.02 L1113.29,223.77 L1117.45,225.55 L1121.61,227.37 L1125.77,229.22 L1129.93,231.11 L1134.10,233.04 L1138.26,235.00 L1142.42,236.99 L1146.58,239.02 L1150.74,241.08 L1154.90,243.18 L1159.07,245.31 L1163.23,247.47 L1167.39,249.67 L1171.55,251.89 L1175.71,254.15 L1179.87,256.44 L1184.04,258.75 L1188.20,261.09 L1192.36,263.46 L1196.52,265.86 L1200.68,268.28 L1204.85,270.72 L1209.01,273.19 L1213.17,275.68 L1217.33,278.19 L1221.49,280.72 L1225.65,283.28 L1229.82,285.85 L1233.98,288.44 L1238.14,291.04 L1242.30,293.67 L1246.46,296.31 L1250.62,298.96 L1254.79,301.63 L1258.95,304.31 L1263.11,307.00 L1267.27,309.70 L1271.43,312.42 L1275.60,315.14 L1279.76,317.87 L1283.92,320.61 L1288.08,323.35 L1292.24,326.10 L1296.40,328.85 L1300.57,331.61 L1304.73,334.37 L1308.89,337.13 L1313.05,339.89 L1317.21,342.65 L1321.38,345.41 L1325.54,348.17 L1329.70,350.92 L1333.86,353.67 L1338.02,356.41 L1342.18,359.14 L1346.35,361.87 L1350.51,364.59 L1354.67,367.30 L1358.83,370.00 L1362.99,372.69 L1367.15,375.37 L1371.32,378.03 L1375.48,380.67 L1379.64,383.30 L1383.80,385.90 L1387.96,388.49 L1392.13,391.05 L1396.29,393.59 L1400.45,396.11 L1404.61,398.59 L1408.77,401.05 L1412.93,403.49 L1417.10,405.89 L1421.26,408.25 L1425.42,410.59 L1429.58,412.89 L1433.74,415.15 L1437.90,417.38 L1442.07,419.56 L1446.23,421.71 L1450.39,423.81 L1454.55,425.87 L1458.71,427.89 L1462.88,429.87 L1467.04,431.80 L1471.20,433.70 L1475.36,435.56 L1479.52,437.37 L1483.68,439.15 L1487.85,440.90 L1492.01,442.61 L1496.17,444.28 L1500.33,445.92 L1504.49,447.53 L1508.65,449.10 L1512.82,450.65 L1516.98,452.16 L1521.14,453.65 L1525.30,455.10 L1529.46,456.53 L1533.63,457.93 L1537.79,459.31 L1541.95,460.66 L1546.11,461.99 L1550.27,463.29 L1554.43,464.58 L1558.60,465.84 L1562.76,467.07 L1566.92,468.29 L1571.08,469.48 L1575.24,470.65 L1579.40,471.79 L1583.57,472.91 L1587.73,474.01 L1591.89,475.08 L1596.05,476.13 L1600.21,477.15 L1604.38,478.15 L1608.54,479.12 L1612.70,480.06 L1616.86,480.98 L1621.02,481.88 L1625.18,482.75 L1629.35,483.59 L1633.51,484.40 L1637.67,485.19 L1641.83,485.95 L1645.99,486.68 L1650.15,487.39 L1654.32,488.07 L1658.48,488.72 L1662.64,489.34 L1666.80,489.94 L1670.96,490.51 L1675.13,491.06 L1679.29,491.58 L1683.45,492.08 L1687.61,492.56 L1691.77,493.01 L1695.93,493.45 L1700.10,493.86 L1704.26,494.25 L1708.42,494.63 L1712.58,494.98 L1716.74,495.32 L1720.91,495.64 L1725.07,495.95 L1729.23,496.23 L1733.39,496.51 L1737.55,496.76 L1741.71,497.01 L1745.88,497.24 L1750.04,497.46 L1754.20,497.67 L1758.37,497.86 L1762.54,498.04 L1766.72,498.20 L1770.92,498.35 L1775.14,498.48 L1779.38,498.58 L1783.64,498.67 L1787.93,498.73 L1792.26,498.77 L1796.62,498.79 L1801.02,498.78 L1805.46,498.74 L1809.95,498.67 L1814.50,498.57 L1819.09,498.44 L1823.75,498.27 L1828.46,498.07 L1833.24,497.84 L1838.09,497.57 L1843.01,497.25 L1848.01,496.90 L1853.08,496.51 L1858.24,496.08 L1863.49,495.60 L1868.85,495.08 L1874.32,494.51 L1879.94,493.91 L1885.71,493.27 L1891.67,492.59 L1897.82,491.87 L1904.18,491.12 L1910.77,490.33 L1917.61,489.51 L1924.72,488.66 L1932.11,487.77 L1939.81,486.86 L1947.83,485.92 L1956.19,484.95 L1964.91,483.96 L1974.00,482.94 L1983.49,481.90 L1993.38,480.83 L2003.71,479.75 L2014.49,478.64 L2025.73,477.52 L2037.46,476.38 L2049.68,475.22" fill="none" stroke="#800000" stroke-width="3.9" stroke-linejoin="round"/>
<g fill="#800000">
<rect x="744.21" y="164.28" width="14.0" height="14.0"/>
<rect x="844.10" y="169.49" width="14.0" height="14.0"/>
<rect x="943.98" y="172.33" width="14.0" height="14.0"/>
<rect x="1043.86" y="190.78" width="14.0" height="14.0"/>
<rect x="1143.74" y="230.77" width="14.0" height="14.0"/>
<rect x="1243.62" y="290.63" width="14.0" height="14.0"/>
<rect x="1343.51" y="358.48" width="14.0" height="14.0"/>
<rect x="1443.39" y="420.99" width="14.0" height="14.0"/>
<rect x="1543.27" y="458.42" width="14.0" height="14.0"/>
<rect x="1643.15" y="483.08" width="14.0" height="14.0"/>
<rect x="1743.04" y="491.60" width="14.0" height="14.0"/>
<rect x="1842.92" y="493.30" width="14.0" height="14.0"/>
<rect x="1942.80" y="477.54" width="14.0" height="14.0"/>
<rect x="2042.68" y="468.22" width="14.0" height="14.0"/>
</g>
<path d="M1150.74,144.78 L1162.97,144.89 L1174.70,145.07 L1185.94,145.34 L1196.71,145.67 L1207.04,146.07 L1216.94,146.53 L1226.43,147.05 L1235.52,147.62 L1244.24,148.23 L1252.60,148.88 L1260.61,149.56 L1268.31,150.27 L1275.71,150.99 L1282.82,151.74 L1289.66,152.50 L1296.25,153.25 L1302.61,154.01 L1308.76,154.77 L1314.71,155.51 L1320.49,156.23 L1326.11,156.93 L1331.58,157.59 L1336.94,158.23 L1342.18,158.82 L1347.34,159.37 L1352.42,159.88 L1357.42,160.34 L1362.34,160.76 L1367.19,161.15 L1371.97,161.49 L1376.68,161.81 L1381.34,162.09 L1385.93,162.34 L1390.47,162.56 L1394.96,162.75 L1399.41,162.92 L1403.81,163.07 L1408.17,163.20 L1412.50,163.30 L1416.79,163.39 L1421.05,163.46 L1425.29,163.52 L1429.51,163.57 L1433.70,163.61 L1437.89,163.64 L1442.06,163.67 L1446.23,163.69 L1450.39,163.71 L1454.55,163.73 L1458.71,163.75 L1462.88,163.77 L1467.04,163.79 L1471.20,163.81 L1475.36,163.83 L1479.52,163.85 L1483.68,163.86 L1487.85,163.88 L1492.01,163.90 L1496.17,163.91 L1500.33,163.93 L1504.49,163.94 L1508.65,163.96 L1512.82,163.97 L1516.98,163.98 L1521.14,163.99 L1525.30,164.00 L1529.46,164.01 L1533.63,164.02 L1537.79,164.02 L1541.95,164.02 L1546.11,164.03 L1550.27,164.03 L1554.43,164.03 L1558.60,164.02 L1562.76,164.02 L1566.92,164.02 L1571.08,164.01 L1575.24,164.00 L1579.40,163.99 L1583.57,163.98 L1587.73,163.97 L1591.89,163.96 L1596.05,163.95 L1600.21,163.94 L1604.38,163.93 L1608.54,163.91 L1612.70,163.90 L1616.86,163.89 L1621.02,163.87 L1625.18,163.86 L1629.35,163.85 L1633.51,163.84 L1637.67,163.82 L1641.83,163.81 L1645.99,163.80 L1650.15,163.79 L1654.32,163.78 L1658.48,163.77 L1662.64,163.76 L1666.80,163.76 L1670.96,163.75 L1675.13,163.75 L1679.29,163.74 L1683.45,163.74 L1687.61,163.73 L1691.77,163.73 L1695.93,163.72 L1700.10,163.72 L1704.26,163.72 L1708.42,163.72 L1712.58,163.72 L1716.74,163.71 L1720.91,163.71 L1725.07,163.71 L1729.23,163.71 L1733.39,163.71 L1737.55,163.71 L1741.71,163.71 L1745.88,163.71 L1750.04,163.71 L1754.20,163.71 L1758.37,163.71 L1762.54,163.71 L1766.72,163.71 L1770.92,163.71 L1775.14,163.71 L1779.38,163.71 L1783.64,163.71 L1787.93,163.71 L1792.26,163.71 L1796.62,163.71 L1801.02,163.71 L1805.46,163.71 L1809.95,163.71 L1814.50,163.71 L1819.09,163.71 L1823.75,163.71 L1828.46,163.71 L1833.24,163.71 L1838.09,163.71 L1843.01,163.71 L1848.01,163.71 L1853.08,163.71 L1858.24,163.71 L1863.49,163.71 L1868.85,163.71 L1874.32,163.71 L1879.94,163.71 L1885.71,163.71 L1891.67,163.71 L1897.82,163.71 L1904.18,163.71 L1910.77,163.71 L1917.61,163.71 L1924.72,163.71 L1932.11,163.71 L1939.81,163.71 L1947.83,163.71 L1956.19,163.71 L1964.91,163.71 L1974.00,163.71 L1983.49,163.71 L1993.38,163.71 L2003.71,163.71 L2014.49,163.71 L2025.73,163.71 L2037.46,163.71 L2049.68,163.71" fill="none" stroke="#3cd524" stroke-width="3.9" stroke-linejoin="round" stroke-dasharray="22.3 23.7"/>
<g fill="#3cd524">
<rect x="1143.74" y="137.78" width="14.0" height="14.0"/>
<rect x="1243.62" y="138.26" width="14.0" height="14.0"/>
<rect x="1343.51" y="156.24" width="14.0" height="14.0"/>
<rect x="1443.39" y="156.71" width="14.0" height="14.0"/>
<rect x="1543.27" y="157.19" width="14.0" height="14.0"/>
<rect x="1643.15" y="156.71" width="14.0" height="14.0"/>
<rect x="1743.04" y="156.71" width="14.0" height="14.0"/>
<rect x="1842.92" y="156.71" width="14.0" height="14.0"/>
<rect x="1942.80" y="156.71" width="14.0" height="14.0"/>
<rect x="2042.68" y="156.71" width="14.0" height="14.0"/>
</g>
</g>
<g font-size="53.4" fill="#000">
<line x1="249.6" y1="200.60" x2="372" y2="200.60" stroke="#3cd524" stroke-width="3.9"/>
<rect x="303.30" y="193.60" width="14.0" height="14.0" fill="#3cd524"/>
<text x="384" y="218.80">Cu-MCM-22-A</text>
<line x1="249.6" y1="265.78" x2="372" y2="265.78" stroke="#3cd524" stroke-width="3.9" stroke-dasharray="23.3 22.6"/>
<rect x="303.30" y="258.78" width="14.0" height="14.0" fill="#3cd524"/>
<text x="384" y="283.98">Cu-MCM-22</text>
<line x1="249.6" y1="330.96" x2="372" y2="330.96" stroke="#ff8000" stroke-width="3.9"/>
<rect x="303.30" y="323.96" width="14.0" height="14.0" fill="#ff8000"/>
<text x="384" y="349.16">Fe-MCM-22-A</text>
<line x1="249.6" y1="396.14" x2="372" y2="396.14" stroke="#ff0000" stroke-width="3.9"/>
<rect x="303.30" y="389.14" width="14.0" height="14.0" fill="#ff0000"/>
<text x="384" y="414.34">Fe(3)-MCM-22-A</text>
<line x1="249.6" y1="461.32" x2="372" y2="461.32" stroke="#ff00ff" stroke-width="3.9"/>
<rect x="303.30" y="454.32" width="14.0" height="14.0" fill="#ff00ff"/>
<text x="384" y="479.52">Mn-MCM-22-A</text>
<line x1="249.6" y1="526.50" x2="372" y2="526.50" stroke="#800000" stroke-width="3.9"/>
<rect x="303.30" y="519.50" width="14.0" height="14.0" fill="#800000"/>
<text x="384" y="544.70">Mn(3)-MCM-22-A</text>
</g>
</g>
</svg>
</body>
</html>
